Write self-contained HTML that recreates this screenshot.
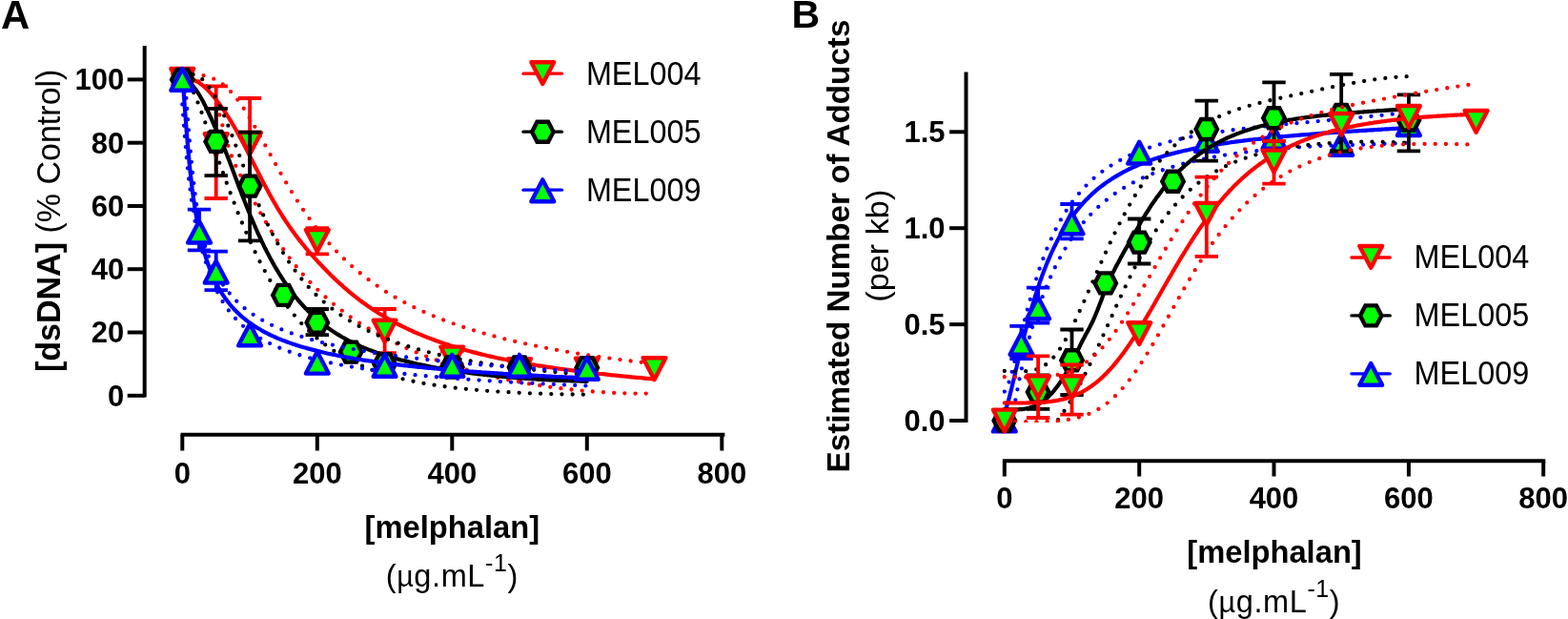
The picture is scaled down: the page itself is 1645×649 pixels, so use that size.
<!DOCTYPE html>
<html><head><meta charset="utf-8"><title>Melphalan dose response</title>
<style>html,body{margin:0;padding:0;background:#fff;overflow:hidden}svg{display:block}text{font-family:"Liberation Sans", Arial, sans-serif;fill:#000}</style>
</head><body>
<svg width="1645" height="649" viewBox="0 0 1645 649">
<rect width="1645" height="649" fill="#fff"/>
<defs><clipPath id="ca"><rect x="150" y="40" width="620" height="376.6"/></clipPath><clipPath id="cb"><rect x="1012" y="60" width="620" height="383.1"/></clipPath></defs>
<text x="1.1" y="29.7" font-size="41.8" font-weight="bold" text-anchor="start" >A</text>
<text x="830.6" y="29.3" font-size="41" font-weight="bold" text-anchor="start" >B</text>
<path d="M151.7,48 V416.6" stroke="#000" stroke-width="4" fill="none"/>
<path d="M133.7,414.8 H151.7" stroke="#000" stroke-width="4"/>
<text x="130.3" y="425.7" font-size="31" font-weight="bold" text-anchor="end" >0</text>
<path d="M133.7,348.5 H151.7" stroke="#000" stroke-width="4"/>
<text x="130.3" y="359.4" font-size="31" font-weight="bold" text-anchor="end" >20</text>
<path d="M133.7,282.2 H151.7" stroke="#000" stroke-width="4"/>
<text x="130.3" y="293.1" font-size="31" font-weight="bold" text-anchor="end" >40</text>
<path d="M133.7,216.0 H151.7" stroke="#000" stroke-width="4"/>
<text x="130.3" y="226.9" font-size="31" font-weight="bold" text-anchor="end" >60</text>
<path d="M133.7,149.7 H151.7" stroke="#000" stroke-width="4"/>
<text x="130.3" y="160.6" font-size="31" font-weight="bold" text-anchor="end" >80</text>
<path d="M133.7,83.4 H151.7" stroke="#000" stroke-width="4"/>
<text x="130.3" y="94.3" font-size="31" font-weight="bold" text-anchor="end" >100</text>
<path d="M189.5,455.7 H760.4" stroke="#000" stroke-width="4" fill="none"/>
<path d="M191.3,455.7 V472.5" stroke="#000" stroke-width="4"/>
<text x="191.3" y="507.2" font-size="31" font-weight="bold" text-anchor="middle" >0</text>
<path d="M332.8,455.7 V472.5" stroke="#000" stroke-width="4"/>
<text x="332.8" y="507.2" font-size="31" font-weight="bold" text-anchor="middle" >200</text>
<path d="M474.3,455.7 V472.5" stroke="#000" stroke-width="4"/>
<text x="474.3" y="507.2" font-size="31" font-weight="bold" text-anchor="middle" >400</text>
<path d="M615.8,455.7 V472.5" stroke="#000" stroke-width="4"/>
<text x="615.8" y="507.2" font-size="31" font-weight="bold" text-anchor="middle" >600</text>
<path d="M757.3,455.7 V472.5" stroke="#000" stroke-width="4"/>
<text x="757.3" y="507.2" font-size="31" font-weight="bold" text-anchor="middle" >800</text>
<text transform="translate(62.6,231.3) rotate(-90)" font-size="35.5" text-anchor="middle" textLength="317.5" lengthAdjust="spacingAndGlyphs"><tspan font-weight="bold">[dsDNA]</tspan> (% Control)</text>
<text x="474.3" y="564.2" font-size="34" font-weight="bold" text-anchor="middle" textLength="183.5" lengthAdjust="spacingAndGlyphs">[melphalan]</text>
<text x="474.3" y="614.7" font-size="32.5" letter-spacing="0.6" text-anchor="middle">(<tspan font-size="30.5">µ</tspan>g.mL<tspan font-size="25" dy="-15.5">-1</tspan><tspan dy="15.5">)</tspan></text>
<path d="M1013.5,75.4 V443.1" stroke="#000" stroke-width="4" fill="none"/>
<path d="M996.1,441.0 H1013.5" stroke="#000" stroke-width="4"/>
<text x="991.5" y="451.9" font-size="31" font-weight="bold" text-anchor="end" >0.0</text>
<path d="M996.1,340.1 H1013.5" stroke="#000" stroke-width="4"/>
<text x="991.5" y="351.0" font-size="31" font-weight="bold" text-anchor="end" >0.5</text>
<path d="M996.1,239.2 H1013.5" stroke="#000" stroke-width="4"/>
<text x="991.5" y="250.1" font-size="31" font-weight="bold" text-anchor="end" >1.0</text>
<path d="M996.1,138.3 H1013.5" stroke="#000" stroke-width="4"/>
<text x="991.5" y="149.2" font-size="31" font-weight="bold" text-anchor="end" >1.5</text>
<path d="M1051.9,483.3 H1621.3" stroke="#000" stroke-width="4" fill="none"/>
<path d="M1053.8,483.3 V499.5" stroke="#000" stroke-width="4"/>
<text x="1053.8" y="533.2" font-size="31" font-weight="bold" text-anchor="middle" >0</text>
<path d="M1195.2,483.3 V499.5" stroke="#000" stroke-width="4"/>
<text x="1195.2" y="533.2" font-size="31" font-weight="bold" text-anchor="middle" >200</text>
<path d="M1336.5,483.3 V499.5" stroke="#000" stroke-width="4"/>
<text x="1336.5" y="533.2" font-size="31" font-weight="bold" text-anchor="middle" >400</text>
<path d="M1477.9,483.3 V499.5" stroke="#000" stroke-width="4"/>
<text x="1477.9" y="533.2" font-size="31" font-weight="bold" text-anchor="middle" >600</text>
<path d="M1619.2,483.3 V499.5" stroke="#000" stroke-width="4"/>
<text x="1619.2" y="533.2" font-size="31" font-weight="bold" text-anchor="middle" >800</text>
<text transform="translate(891.4,258) rotate(-90)" font-size="34" font-weight="bold" text-anchor="middle" textLength="474.8" lengthAdjust="spacingAndGlyphs">Estimated Number of Adducts</text>
<text transform="translate(932.0,257.7) rotate(-90)" font-size="33" text-anchor="middle" textLength="118" lengthAdjust="spacingAndGlyphs">(per kb)</text>
<text x="1337" y="590.2" font-size="34" font-weight="bold" text-anchor="middle" textLength="183.5" lengthAdjust="spacingAndGlyphs">[melphalan]</text>
<text x="1336.7" y="641.6" font-size="32.5" letter-spacing="0.6" text-anchor="middle">(<tspan font-size="30.5">µ</tspan>g.mL<tspan font-size="25" dy="-15.5">-1</tspan><tspan dy="15.5">)</tspan></text>
<path d="M549.0,77.2 H589.4" stroke="#ff0000" stroke-width="3.3" stroke-linecap="round"/>
<path d="M569.3,88.0 L581.2,65.2 L557.4,65.2 Z" fill="#00ff00" stroke="#ff0000" stroke-width="4.4" stroke-linejoin="round"/>
<text x="614.9" y="88.6" font-size="35" font-weight="normal" text-anchor="start" textLength="120.6" lengthAdjust="spacingAndGlyphs">MEL004</text>
<path d="M549.0,138.2 H589.4" stroke="#000000" stroke-width="3.3" stroke-linecap="round"/>
<path d="M558.1,138.2 L563.5,127.7 L575.1,127.7 L580.5,138.2 L575.1,148.7 L563.5,148.7 Z" fill="#00ff00" stroke="#000000" stroke-width="4.4" stroke-linejoin="miter"/>
<text x="614.9" y="149.6" font-size="35" font-weight="normal" text-anchor="start" textLength="120.6" lengthAdjust="spacingAndGlyphs">MEL005</text>
<path d="M549.0,199.2 H589.4" stroke="#0000ff" stroke-width="3.3" stroke-linecap="round"/>
<path d="M569.3,188.4 L581.2,211.2 L557.4,211.2 Z" fill="#00ff00" stroke="#0000ff" stroke-width="4.4" stroke-linejoin="round"/>
<text x="614.9" y="210.6" font-size="35" font-weight="normal" text-anchor="start" textLength="120.6" lengthAdjust="spacingAndGlyphs">MEL009</text>
<path d="M1417.9,270.0 H1458.3" stroke="#ff0000" stroke-width="3.3" stroke-linecap="round"/>
<path d="M1438.2,280.8 L1450.1,258.0 L1426.3,258.0 Z" fill="#00ff00" stroke="#ff0000" stroke-width="4.4" stroke-linejoin="round"/>
<text x="1483.6" y="281.4" font-size="35" font-weight="normal" text-anchor="start" textLength="120.6" lengthAdjust="spacingAndGlyphs">MEL004</text>
<path d="M1417.9,330.9 H1458.3" stroke="#000000" stroke-width="3.3" stroke-linecap="round"/>
<path d="M1427.0,330.9 L1432.4,320.4 L1444.0,320.4 L1449.4,330.9 L1444.0,341.4 L1432.4,341.4 Z" fill="#00ff00" stroke="#000000" stroke-width="4.4" stroke-linejoin="miter"/>
<text x="1483.6" y="342.3" font-size="35" font-weight="normal" text-anchor="start" textLength="120.6" lengthAdjust="spacingAndGlyphs">MEL005</text>
<path d="M1417.9,391.8 H1458.3" stroke="#0000ff" stroke-width="3.3" stroke-linecap="round"/>
<path d="M1438.2,381.0 L1450.1,403.8 L1426.3,403.8 Z" fill="#00ff00" stroke="#0000ff" stroke-width="4.4" stroke-linejoin="round"/>
<text x="1483.6" y="403.2" font-size="35" font-weight="normal" text-anchor="start" textLength="120.6" lengthAdjust="spacingAndGlyphs">MEL009</text>
<path clip-path="url(#ca)" d="M191.3,78.0 L193.3,78.0 L195.3,78.0 L197.3,78.0 L199.3,78.1 L201.3,78.1 L203.3,78.2 L205.4,78.3 L207.4,78.4 L209.4,78.7 L211.3,78.9 L213.3,79.2 L215.3,79.6 L217.2,80.1 L219.2,80.7 L221.1,81.3 L222.9,82.0 L224.8,82.9 L226.6,83.8 L228.3,84.7 L230.0,85.8 L231.7,86.9 L233.3,88.1 L234.9,89.3 L236.5,90.6 L238.0,91.9 L239.4,93.3 L240.8,94.7 L242.2,96.2 L243.6,97.7 L244.9,99.2 L246.2,100.7 L247.5,102.3 L248.7,103.9 L249.9,105.5 L251.1,107.1 L252.3,108.7 L253.4,110.4 L254.6,112.0 L255.7,113.7 L256.8,115.4 L257.9,117.0 L258.9,118.7 L260.0,120.4 L261.1,122.1 L262.1,123.9 L263.2,125.6 L264.2,127.3 L265.2,129.0 L266.2,130.8 L267.2,132.5 L268.2,134.3 L269.2,136.0 L270.2,137.8 L271.2,139.5 L272.2,141.3 L273.1,143.0 L274.1,144.8 L275.1,146.5 L276.0,148.3 L277.0,150.0 L278.0,151.8 L278.9,153.6 L279.9,155.3 L280.9,157.1 L281.8,158.9 L282.8,160.6 L283.8,162.4 L284.7,164.1 L285.7,165.9 L286.7,167.7 L287.6,169.4 L288.6,171.2 L289.6,172.9 L290.6,174.7 L291.6,176.4 L292.5,178.2 L293.5,179.9 L294.5,181.7 L295.5,183.4 L296.5,185.2 L297.5,186.9 L298.5,188.6 L299.5,190.4 L300.6,192.1 L301.6,193.8 L302.6,195.6 L303.7,197.3 L304.7,199.0 L305.7,200.7 L306.8,202.4 L307.8,204.1 L308.9,205.8 L310.0,207.5 L311.1,209.2 L312.1,210.9 L313.2,212.6 L314.3,214.3 L315.4,216.0 L316.6,217.6 L317.7,219.3 L318.8,221.0 L319.9,222.6 L321.1,224.3 L322.2,225.9 L323.4,227.5 L324.6,229.2 L325.8,230.8 L326.9,232.4 L328.1,234.0 L329.3,235.6 L330.6,237.2 L331.8,238.8 L333.0,240.4 L334.3,242.0 L335.5,243.6 L336.8,245.1 L338.1,246.7 L339.3,248.2 L340.6,249.8 L341.9,251.3 L343.2,252.8 L344.6,254.3 L345.9,255.8 L347.2,257.3 L348.6,258.8 L350.0,260.3 L351.3,261.7 L352.7,263.2 L354.1,264.6 L355.5,266.1 L356.9,267.5 L358.3,268.9 L359.8,270.3 L361.2,271.7 L362.7,273.1 L364.1,274.5 L365.6,275.8 L367.1,277.2 L368.6,278.5 L370.1,279.9 L371.6,281.2 L373.1,282.5 L374.7,283.8 L376.2,285.1 L377.8,286.3 L379.3,287.6 L380.9,288.9 L382.5,290.1 L384.1,291.3 L385.7,292.5 L387.3,293.7 L388.9,294.9 L390.5,296.1 L392.2,297.3 L393.8,298.4 L395.5,299.6 L397.1,300.7 L398.8,301.8 L400.5,302.9 L402.1,304.0 L403.8,305.1 L405.5,306.2 L407.2,307.2 L409.0,308.3 L410.7,309.3 L412.4,310.4 L414.1,311.4 L415.9,312.4 L417.6,313.4 L419.4,314.3 L421.1,315.3 L422.9,316.3 L424.7,317.2 L426.5,318.1 L428.2,319.1 L430.0,320.0 L431.8,320.9 L433.6,321.8 L435.4,322.7 L437.2,323.5 L439.0,324.4 L440.9,325.2 L442.7,326.1 L444.5,326.9 L446.4,327.7 L448.2,328.5 L450.0,329.3 L451.9,330.1 L453.7,330.9 L455.6,331.7 L457.4,332.4 L459.3,333.2 L461.2,333.9 L463.0,334.7 L464.9,335.4 L466.8,336.1 L468.7,336.8 L470.6,337.5 L472.4,338.2 L474.3,338.9 L476.2,339.5 L478.1,340.2 L480.0,340.9 L481.9,341.5 L483.8,342.2 L485.7,342.8 L487.6,343.4 L489.5,344.0 L491.5,344.7 L493.4,345.3 L495.3,345.9 L497.2,346.4 L499.1,347.0 L501.1,347.6 L503.0,348.2 L504.9,348.7 L506.8,349.3 L508.8,349.8 L510.7,350.4 L512.6,350.9 L514.6,351.4 L516.5,352.0 L518.5,352.5 L520.4,353.0 L522.3,353.5 L524.3,354.0 L526.2,354.5 L528.2,355.0 L530.1,355.5 L532.1,356.0 L534.0,356.4 L536.0,356.9 L537.9,357.4 L539.9,357.8 L541.9,358.3 L543.8,358.7 L545.8,359.2 L547.7,359.6 L549.7,360.0 L551.7,360.5 L553.6,360.9 L555.6,361.3 L557.5,361.7 L559.5,362.1 L561.5,362.5 L563.4,362.9 L565.4,363.3 L567.4,363.7 L569.4,364.1 L571.3,364.5 L573.3,364.9 L575.3,365.2 L577.2,365.6 L579.2,366.0 L581.2,366.3 L583.2,366.7 L585.1,367.1 L587.1,367.4 L589.1,367.8 L591.1,368.1 L593.1,368.5 L595.0,368.8 L597.0,369.1 L599.0,369.5 L601.0,369.8 L603.0,370.1 L604.9,370.5 L606.9,370.8 L608.9,371.1 L610.9,371.4 L612.9,371.7 L614.9,372.0 L616.8,372.3 L618.8,372.6 L620.8,372.9 L622.8,373.2 L624.8,373.5 L626.8,373.8 L628.8,374.1 L630.8,374.4 L632.7,374.7 L634.7,374.9 L636.7,375.2 L638.7,375.5 L640.7,375.8 L642.7,376.0 L644.7,376.3 L646.7,376.6 L648.7,376.8 L650.7,377.1 L652.6,377.3 L654.6,377.6 L656.6,377.8 L658.6,378.1 L660.6,378.4 L662.6,378.6 L664.6,378.8 L666.6,379.1 L668.6,379.3 L670.6,379.6 L672.6,379.8 L674.6,380.0 L676.6,380.3 L678.6,380.5 L680.6,380.7 L682.6,381.0 L684.6,381.2 L686.5,381.4" fill="none" stroke="#ff0000" stroke-width="4.3" stroke-dasharray="0 11.2" stroke-linecap="round"/>
<path clip-path="url(#ca)" d="M191.3,72.7 L193.3,72.8 L195.3,73.2 L197.1,74.0 L198.9,74.9 L200.5,76.1 L202.1,77.4 L203.5,78.8 L204.8,80.3 L206.1,81.9 L207.3,83.5 L208.4,85.1 L209.5,86.8 L210.6,88.5 L211.6,90.2 L213.1,90.1 L215.0,89.6 L216.9,90.2 L218.5,91.4 L219.8,93.0 L220.9,94.6 L221.9,96.4 L222.8,98.2 L223.6,100.0 L224.4,101.9 L225.1,103.7 L225.8,105.6 L226.5,107.5 L227.1,109.4 L227.7,111.3 L228.3,113.2 L228.9,115.2 L229.5,117.1 L230.0,119.0 L230.6,121.0 L231.1,122.9 L231.6,124.8 L232.2,126.8 L232.7,128.7 L233.2,130.7 L233.7,132.6 L234.3,134.5 L234.8,136.5 L235.3,138.4 L235.8,140.4 L236.4,142.3 L236.9,144.2 L237.4,146.2 L238.0,148.1 L238.5,150.0 L239.1,152.0 L239.7,153.9 L240.3,155.8 L240.9,157.7 L241.5,159.6 L242.2,161.5 L242.9,163.4 L243.6,165.3 L244.4,167.1 L245.1,169.0 L245.9,170.8 L246.8,172.7 L247.6,174.5 L248.5,176.3 L249.4,178.1 L250.3,179.9 L251.2,181.7 L252.1,183.5 L253.0,185.3 L253.9,187.0 L254.8,188.8 L255.7,190.6 L256.7,192.4 L257.6,194.2 L258.5,196.0 L259.4,197.8 L260.4,199.5 L261.3,201.3 L262.2,203.1 L263.2,204.9 L264.1,206.6 L265.1,208.4 L266.0,210.2 L267.0,212.0 L267.9,213.7 L268.9,215.5 L269.9,217.2 L270.9,219.0 L271.8,220.7 L272.8,222.5 L273.8,224.2 L274.8,226.0 L275.8,227.7 L276.8,229.5 L277.8,231.2 L278.9,232.9 L279.9,234.6 L280.9,236.4 L282.0,238.1 L283.0,239.8 L284.1,241.5 L285.2,243.2 L286.2,244.9 L287.3,246.6 L288.4,248.3 L289.5,250.0 L290.6,251.7 L291.7,253.3 L292.8,255.0 L293.9,256.7 L295.1,258.3 L296.2,260.0 L297.4,261.6 L298.5,263.3 L299.7,264.9 L300.9,266.5 L302.1,268.1 L303.3,269.7 L304.5,271.3 L305.7,272.9 L306.9,274.5 L308.2,276.1 L309.4,277.7 L310.7,279.2 L312.0,280.8 L313.3,282.3 L314.6,283.8 L315.9,285.4 L317.2,286.9 L318.5,288.4 L319.9,289.9 L321.2,291.4 L322.6,292.9 L324.0,294.3 L325.3,295.8 L326.7,297.2 L328.1,298.7 L329.5,300.1 L331.0,301.5 L332.4,302.9 L333.8,304.3 L335.3,305.7 L336.8,307.1 L338.2,308.5 L339.7,309.8 L341.2,311.2 L342.7,312.5 L344.2,313.8 L345.7,315.1 L347.3,316.4 L348.8,317.7 L350.3,319.0 L351.9,320.3 L353.5,321.5 L355.0,322.8 L356.6,324.0 L358.2,325.2 L359.8,326.5 L361.4,327.7 L363.0,328.8 L364.7,330.0 L366.3,331.2 L367.9,332.4 L369.6,333.5 L371.2,334.6 L372.9,335.8 L374.6,336.9 L376.3,338.0 L377.9,339.1 L379.6,340.2 L381.3,341.2 L383.0,342.3 L384.8,343.4 L386.5,344.4 L388.2,345.4 L389.9,346.4 L391.7,347.4 L393.4,348.4 L395.2,349.4 L396.9,350.4 L398.7,351.4 L400.4,352.3 L402.2,353.3 L404.0,354.2 L405.8,355.2 L407.6,356.1 L409.3,357.0 L411.1,357.9 L412.9,358.8 L414.8,359.6 L416.6,360.5 L418.4,361.4 L420.2,362.2 L422.0,363.1 L423.9,363.9 L425.7,364.7 L427.5,365.5 L429.4,366.3 L431.2,367.1 L433.1,367.9 L434.9,368.7 L436.8,369.5 L438.6,370.2 L440.5,371.0 L442.4,371.7 L444.2,372.5 L446.1,373.2 L448.0,373.9 L449.8,374.6 L451.7,375.3 L453.6,376.0 L455.5,376.7 L457.4,377.4 L459.3,378.0 L461.2,378.7 L463.1,379.3 L465.0,380.0 L466.9,380.6 L468.8,381.3 L470.7,381.9 L472.6,382.5 L474.5,383.1 L476.5,383.7 L478.4,384.3 L480.3,384.9 L482.2,385.5 L484.1,386.0 L486.1,386.6 L488.0,387.2 L489.9,387.7 L491.9,388.3 L493.8,388.8 L495.7,389.3 L497.7,389.9 L499.6,390.4 L501.6,390.9 L503.5,391.4 L505.5,391.9 L507.4,392.4 L509.4,392.9 L511.3,393.3 L513.3,393.8 L515.2,394.3 L517.2,394.7 L519.1,395.2 L521.1,395.6 L523.0,396.1 L525.0,396.5 L527.0,396.9 L528.9,397.3 L530.9,397.8 L532.9,398.2 L534.8,398.6 L536.8,399.0 L538.8,399.4 L540.7,399.7 L542.7,400.1 L544.7,400.5 L546.7,400.9 L548.6,401.2 L550.6,401.6 L552.6,401.9 L554.6,402.3 L556.6,402.6 L558.5,402.9 L560.5,403.3 L562.5,403.6 L564.5,403.9 L566.5,404.2 L568.5,404.5 L570.4,404.8 L572.4,405.1 L574.4,405.4 L576.4,405.7 L578.4,405.9 L580.4,406.2 L582.4,406.5 L584.4,406.7 L586.4,407.0 L588.4,407.2 L590.4,407.5 L592.4,407.7 L594.3,407.9 L596.3,408.1 L598.3,408.4 L600.3,408.6 L602.3,408.8 L604.3,409.0 L606.3,409.2 L608.3,409.4 L610.3,409.5 L612.3,409.7 L614.3,409.9 L616.3,410.1 L618.3,410.2 L620.3,410.4 L622.3,410.5 L624.3,410.7 L626.4,410.8 L628.4,411.0 L630.4,411.1 L632.4,411.2 L634.4,411.4 L636.4,411.5 L638.4,411.6 L640.4,411.7 L642.4,411.8 L644.4,411.9 L646.4,412.0 L648.4,412.0 L650.4,412.1 L652.4,412.2 L654.4,412.3 L656.4,412.3 L658.5,412.4 L660.5,412.4 L662.5,412.5 L664.5,412.5 L666.5,412.6 L668.5,412.6 L670.5,412.6 L672.5,412.6 L674.5,412.6 L676.5,412.6 L678.5,412.6 L680.5,412.6 L682.6,412.7 L684.6,412.9 L686.5,413.1" fill="none" stroke="#ff0000" stroke-width="4.3" stroke-dasharray="0 11.2" stroke-linecap="round"/>
<path clip-path="url(#ca)" d="M191.3,81.5 L193.3,81.6 L195.3,81.7 L197.3,82.0 L199.3,82.5 L201.2,83.0 L203.1,83.7 L204.9,84.6 L206.7,85.5 L208.4,86.5 L210.1,87.7 L211.7,88.8 L213.3,90.1 L214.8,91.4 L216.3,92.8 L217.7,94.2 L219.1,95.6 L220.5,97.1 L221.8,98.6 L223.1,100.1 L224.4,101.6 L225.7,103.2 L226.9,104.8 L228.2,106.4 L229.4,108.0 L230.6,109.6 L231.7,111.2 L232.9,112.9 L234.0,114.5 L235.2,116.2 L236.3,117.8 L237.4,119.5 L238.5,121.2 L239.6,122.9 L240.7,124.6 L241.7,126.3 L242.8,128.0 L243.8,129.7 L244.8,131.5 L245.9,133.2 L246.9,134.9 L247.9,136.7 L248.9,138.4 L249.8,140.2 L250.8,141.9 L251.8,143.7 L252.7,145.5 L253.7,147.2 L254.6,149.0 L255.6,150.8 L256.5,152.6 L257.4,154.4 L258.3,156.1 L259.3,157.9 L260.2,159.7 L261.1,161.5 L262.0,163.3 L262.9,165.1 L263.8,166.9 L264.7,168.7 L265.6,170.5 L266.5,172.3 L267.4,174.1 L268.4,175.9 L269.3,177.6 L270.2,179.4 L271.1,181.2 L272.0,183.0 L272.9,184.8 L273.8,186.6 L274.8,188.4 L275.7,190.2 L276.6,191.9 L277.5,193.7 L278.5,195.5 L279.4,197.3 L280.4,199.1 L281.3,200.8 L282.3,202.6 L283.2,204.4 L284.2,206.1 L285.2,207.9 L286.2,209.6 L287.2,211.4 L288.2,213.1 L289.2,214.8 L290.2,216.6 L291.2,218.3 L292.3,220.0 L293.3,221.7 L294.4,223.4 L295.5,225.1 L296.5,226.8 L297.6,228.5 L298.7,230.2 L299.8,231.9 L300.9,233.6 L302.1,235.2 L303.2,236.9 L304.4,238.5 L305.5,240.2 L306.7,241.8 L307.9,243.4 L309.1,245.1 L310.3,246.7 L311.5,248.3 L312.7,249.9 L313.9,251.5 L315.2,253.0 L316.4,254.6 L317.7,256.2 L319.0,257.7 L320.2,259.3 L321.5,260.8 L322.8,262.4 L324.1,263.9 L325.5,265.4 L326.8,266.9 L328.1,268.4 L329.5,269.9 L330.8,271.4 L332.2,272.9 L333.5,274.4 L334.9,275.8 L336.3,277.3 L337.7,278.7 L339.0,280.2 L340.4,281.6 L341.9,283.1 L343.3,284.5 L344.7,285.9 L346.1,287.4 L347.5,288.8 L349.0,290.2 L350.4,291.6 L351.9,292.9 L353.3,294.3 L354.8,295.7 L356.3,297.1 L357.8,298.4 L359.3,299.7 L360.8,301.1 L362.3,302.4 L363.8,303.7 L365.3,305.0 L366.9,306.3 L368.4,307.6 L370.0,308.9 L371.5,310.1 L373.1,311.4 L374.7,312.6 L376.3,313.9 L377.9,315.1 L379.5,316.3 L381.1,317.5 L382.7,318.6 L384.4,319.8 L386.0,321.0 L387.7,322.1 L389.4,323.2 L391.0,324.3 L392.7,325.5 L394.4,326.5 L396.1,327.6 L397.8,328.7 L399.5,329.7 L401.2,330.8 L402.9,331.8 L404.7,332.8 L406.4,333.8 L408.2,334.8 L409.9,335.8 L411.7,336.8 L413.5,337.7 L415.2,338.7 L417.0,339.6 L418.8,340.5 L420.6,341.4 L422.4,342.3 L424.2,343.2 L426.0,344.1 L427.8,344.9 L429.6,345.8 L431.5,346.6 L433.3,347.5 L435.1,348.3 L437.0,349.1 L438.8,349.9 L440.7,350.6 L442.5,351.4 L444.4,352.2 L446.3,352.9 L448.1,353.7 L450.0,354.4 L451.9,355.1 L453.8,355.8 L455.7,356.5 L457.5,357.2 L459.4,357.9 L461.3,358.5 L463.2,359.2 L465.1,359.9 L467.0,360.5 L468.9,361.1 L470.9,361.8 L472.8,362.4 L474.7,363.0 L476.6,363.6 L478.5,364.2 L480.4,364.7 L482.4,365.3 L484.3,365.9 L486.2,366.4 L488.2,367.0 L490.1,367.5 L492.0,368.0 L494.0,368.6 L495.9,369.1 L497.9,369.6 L499.8,370.1 L501.8,370.6 L503.7,371.1 L505.7,371.6 L507.6,372.0 L509.6,372.5 L511.5,373.0 L513.5,373.4 L515.4,373.9 L517.4,374.3 L519.4,374.7 L521.3,375.2 L523.3,375.6 L525.3,376.0 L527.2,376.4 L529.2,376.8 L531.2,377.2 L533.1,377.6 L535.1,378.0 L537.1,378.4 L539.1,378.8 L541.0,379.2 L543.0,379.5 L545.0,379.9 L547.0,380.3 L548.9,380.6 L550.9,381.0 L552.9,381.3 L554.9,381.6 L556.9,382.0 L558.8,382.3 L560.8,382.6 L562.8,383.0 L564.8,383.3 L566.8,383.6 L568.8,383.9 L570.8,384.2 L572.7,384.5 L574.7,384.8 L576.7,385.1 L578.7,385.4 L580.7,385.7 L582.7,386.0 L584.7,386.3 L586.7,386.6 L588.7,386.8 L590.6,387.1 L592.6,387.4 L594.6,387.6 L596.6,387.9 L598.6,388.2 L600.6,388.4 L602.6,388.7 L604.6,388.9 L606.6,389.2 L608.6,389.4 L610.6,389.7 L612.6,389.9 L614.6,390.1 L616.6,390.4 L618.6,390.6 L620.6,390.8 L622.6,391.1 L624.6,391.3 L626.6,391.5 L628.5,391.8 L630.5,392.0 L632.5,392.2 L634.5,392.4 L636.5,392.6 L638.5,392.8 L640.5,393.1 L642.5,393.3 L644.5,393.5 L646.5,393.7 L648.5,393.9 L650.5,394.1 L652.5,394.3 L654.5,394.5 L656.5,394.7 L658.5,394.9 L660.5,395.1 L662.5,395.3 L664.5,395.5 L666.5,395.7 L668.5,395.8 L670.5,396.0 L672.5,396.2 L674.5,396.4 L676.5,396.6 L678.5,396.8 L680.5,397.0 L682.5,397.1 L684.5,397.3 L686.5,397.5" fill="none" stroke="#ff0000" stroke-width="4.2" stroke-linejoin="round" stroke-linecap="round"/>
<path d="M191.3,76.8 V90.0 M179.1,76.8 H203.5 M179.1,90.0 H203.5" stroke="#ff0000" stroke-width="3.8" fill="none"/>
<path d="M226.7,90.4 V208.0 M214.5,90.4 H238.9 M214.5,208.0 H238.9" stroke="#ff0000" stroke-width="3.8" fill="none"/>
<path d="M262.1,103.0 V197.7 M249.9,103.0 H274.2 M249.9,197.7 H274.2" stroke="#ff0000" stroke-width="3.8" fill="none"/>
<path d="M332.8,239.2 V266.3 M320.6,239.2 H345.0 M320.6,266.3 H345.0" stroke="#ff0000" stroke-width="3.8" fill="none"/>
<path d="M403.6,324.0 V370.1 M391.4,324.0 H415.8 M391.4,370.1 H415.8" stroke="#ff0000" stroke-width="3.8" fill="none"/>
<path d="M474.3,368.4 V381.7 M462.1,368.4 H486.5 M462.1,381.7 H486.5" stroke="#ff0000" stroke-width="3.8" fill="none"/>
<path d="M191.3,94.8 L203.2,72.0 L179.4,72.0 Z" fill="#00ff00" stroke="#ff0000" stroke-width="4.4" stroke-linejoin="round"/>
<path d="M226.7,163.1 L238.6,140.3 L214.8,140.3 Z" fill="#00ff00" stroke="#ff0000" stroke-width="4.4" stroke-linejoin="round"/>
<path d="M262.1,161.7 L273.9,138.9 L250.2,138.9 Z" fill="#00ff00" stroke="#ff0000" stroke-width="4.4" stroke-linejoin="round"/>
<path d="M332.8,263.8 L344.7,241.0 L320.9,241.0 Z" fill="#00ff00" stroke="#ff0000" stroke-width="4.4" stroke-linejoin="round"/>
<path d="M403.6,358.6 L415.4,335.8 L391.7,335.8 Z" fill="#00ff00" stroke="#ff0000" stroke-width="4.4" stroke-linejoin="round"/>
<path d="M474.3,386.4 L486.2,363.6 L462.4,363.6 Z" fill="#00ff00" stroke="#ff0000" stroke-width="4.4" stroke-linejoin="round"/>
<path d="M545.0,399.0 L556.9,376.2 L533.1,376.2 Z" fill="#00ff00" stroke="#ff0000" stroke-width="4.4" stroke-linejoin="round"/>
<path d="M615.8,398.4 L627.7,375.6 L603.9,375.6 Z" fill="#00ff00" stroke="#ff0000" stroke-width="4.4" stroke-linejoin="round"/>
<path d="M686.5,398.0 L698.4,375.2 L674.6,375.2 Z" fill="#00ff00" stroke="#ff0000" stroke-width="4.4" stroke-linejoin="round"/>
<path clip-path="url(#ca)" d="M191.3,77.0 L193.3,77.0 L195.3,77.1 L197.3,77.2 L199.3,77.4 L201.3,77.8 L203.2,78.3 L205.1,78.9 L207.0,79.7 L208.7,80.7 L210.4,81.8 L212.0,83.0 L213.5,84.4 L214.9,85.8 L216.3,87.2 L217.6,88.8 L218.8,90.4 L220.0,92.0 L221.1,93.6 L222.2,95.3 L223.3,97.0 L224.3,98.8 L225.3,100.5 L226.3,102.3 L227.2,104.0 L228.1,105.8 L229.0,107.6 L229.9,109.4 L230.7,111.2 L231.6,113.1 L232.4,114.9 L233.2,116.7 L234.0,118.6 L234.8,120.4 L235.6,122.3 L236.3,124.1 L237.1,126.0 L237.8,127.8 L238.6,129.7 L239.3,131.6 L240.1,133.4 L240.8,135.3 L241.5,137.2 L242.2,139.1 L243.0,140.9 L243.7,142.8 L244.4,144.7 L245.1,146.6 L245.8,148.4 L246.5,150.3 L247.2,152.2 L247.9,154.1 L248.6,156.0 L249.3,157.9 L250.0,159.7 L250.7,161.6 L251.4,163.5 L252.1,165.4 L252.8,167.3 L253.5,169.1 L254.2,171.0 L254.9,172.9 L255.6,174.8 L256.3,176.7 L257.0,178.5 L257.7,180.4 L258.4,182.3 L259.2,184.2 L259.9,186.0 L260.6,187.9 L261.3,189.8 L262.1,191.7 L262.8,193.5 L263.5,195.4 L264.3,197.3 L265.0,199.1 L265.8,201.0 L266.5,202.9 L267.3,204.7 L268.0,206.6 L268.8,208.4 L269.6,210.3 L270.4,212.1 L271.2,214.0 L271.9,215.8 L272.7,217.7 L273.6,219.5 L274.4,221.3 L275.2,223.2 L276.0,225.0 L276.8,226.8 L277.7,228.6 L278.5,230.5 L279.4,232.3 L280.3,234.1 L281.1,235.9 L282.0,237.7 L282.9,239.5 L283.8,241.3 L284.7,243.1 L285.6,244.9 L286.6,246.6 L287.5,248.4 L288.5,250.2 L289.4,251.9 L290.4,253.7 L291.4,255.5 L292.4,257.2 L293.4,258.9 L294.4,260.7 L295.4,262.4 L296.4,264.1 L297.5,265.8 L298.5,267.5 L299.6,269.2 L300.7,270.9 L301.8,272.6 L302.9,274.3 L304.0,275.9 L305.2,277.6 L306.3,279.2 L307.5,280.9 L308.7,282.5 L309.9,284.1 L311.1,285.7 L312.3,287.3 L313.5,288.9 L314.8,290.5 L316.0,292.0 L317.3,293.6 L318.6,295.1 L319.9,296.6 L321.2,298.1 L322.6,299.6 L323.9,301.1 L325.3,302.6 L326.7,304.1 L328.1,305.5 L329.5,306.9 L330.9,308.4 L332.3,309.8 L333.8,311.1 L335.2,312.5 L336.7,313.9 L338.2,315.2 L339.7,316.5 L341.2,317.8 L342.8,319.1 L344.3,320.4 L345.9,321.7 L347.5,322.9 L349.0,324.2 L350.6,325.4 L352.3,326.6 L353.9,327.7 L355.5,328.9 L357.2,330.1 L358.8,331.2 L360.5,332.3 L362.2,333.4 L363.9,334.5 L365.6,335.5 L367.3,336.6 L369.0,337.6 L370.7,338.6 L372.5,339.6 L374.2,340.6 L376.0,341.6 L377.7,342.5 L379.5,343.5 L381.3,344.4 L383.1,345.3 L384.9,346.2 L386.7,347.1 L388.5,347.9 L390.3,348.8 L392.2,349.6 L394.0,350.5 L395.8,351.3 L397.7,352.0 L399.5,352.8 L401.4,353.6 L403.2,354.3 L405.1,355.1 L407.0,355.8 L408.8,356.5 L410.7,357.2 L412.6,357.9 L414.5,358.6 L416.4,359.3 L418.3,359.9 L420.2,360.6 L422.1,361.2 L424.0,361.8 L425.9,362.4 L427.8,363.1 L429.7,363.6 L431.7,364.2 L433.6,364.8 L435.5,365.4 L437.5,365.9 L439.4,366.5 L441.3,367.0 L443.3,367.5 L445.2,368.0 L447.1,368.6 L449.1,369.1 L451.0,369.6 L453.0,370.0 L454.9,370.5 L456.9,371.0 L458.8,371.5 L460.8,371.9 L462.7,372.4 L464.7,372.8 L466.7,373.2 L468.6,373.7 L470.6,374.1 L472.5,374.5 L474.5,374.9 L476.5,375.3 L478.5,375.7 L480.4,376.1 L482.4,376.5 L484.4,376.8 L486.3,377.2 L488.3,377.6 L490.3,377.9 L492.3,378.3 L494.2,378.6 L496.2,379.0 L498.2,379.3 L500.2,379.6 L502.2,380.0 L504.1,380.3 L506.1,380.6 L508.1,380.9 L510.1,381.2 L512.1,381.5 L514.0,381.9 L516.0,382.2 L518.0,382.4 L520.0,382.7 L522.0,383.0 L524.0,383.3 L526.0,383.6 L528.0,383.9 L529.9,384.1 L531.9,384.4 L533.9,384.6 L535.9,384.9 L537.9,385.2 L539.9,385.4 L541.9,385.7 L543.9,385.9 L545.9,386.2 L547.9,386.4 L549.9,386.6 L551.9,386.9 L553.9,387.1 L555.8,387.3 L557.8,387.5 L559.8,387.8 L561.8,388.0 L563.8,388.2 L565.8,388.4 L567.8,388.6 L569.8,388.8 L571.8,389.0 L573.8,389.2 L575.8,389.4 L577.8,389.6 L579.8,389.8 L581.8,390.0 L583.8,390.2 L585.8,390.4 L587.8,390.6 L589.8,390.8 L591.8,391.0 L593.8,391.1 L595.8,391.3 L597.8,391.5 L599.8,391.7 L601.8,391.8 L603.8,392.0 L605.8,392.2 L607.8,392.3 L609.8,392.5 L611.8,392.7 L613.8,392.8 L615.8,393.0" fill="none" stroke="#000000" stroke-width="4.3" stroke-dasharray="0 11.2" stroke-linecap="round"/>
<path clip-path="url(#ca)" d="M191.3,78.5 L193.0,79.5 L194.3,81.0 L195.5,82.6 L196.6,84.3 L197.7,86.0 L198.7,87.7 L199.6,89.5 L200.5,91.3 L201.4,93.1 L202.2,95.0 L203.0,96.8 L203.8,98.6 L204.6,100.5 L205.4,102.3 L206.2,104.2 L206.9,106.0 L207.7,107.9 L208.4,109.8 L209.1,111.6 L209.9,113.5 L210.6,115.4 L211.3,117.3 L212.0,119.2 L212.7,121.0 L213.4,122.9 L214.1,124.8 L214.8,126.7 L215.4,128.6 L216.1,130.5 L216.8,132.4 L217.5,134.3 L218.1,136.2 L218.8,138.0 L219.5,139.9 L220.2,141.8 L220.8,143.7 L221.5,145.6 L222.2,147.5 L222.8,149.4 L223.5,151.3 L224.1,153.2 L224.8,155.1 L225.5,157.0 L226.1,158.9 L226.8,160.8 L227.5,162.7 L228.1,164.6 L228.8,166.5 L229.4,168.4 L230.1,170.3 L230.8,172.2 L231.4,174.1 L232.1,176.0 L232.8,177.9 L233.5,179.7 L234.1,181.6 L234.8,183.5 L235.5,185.4 L236.2,187.3 L236.9,189.2 L237.5,191.1 L238.2,193.0 L238.9,194.9 L239.6,196.7 L240.3,198.6 L241.0,200.5 L241.7,202.4 L242.4,204.3 L243.1,206.2 L243.8,208.0 L244.5,209.9 L245.3,211.8 L246.0,213.7 L246.7,215.5 L247.4,217.4 L248.2,219.3 L248.9,221.1 L249.6,223.0 L250.4,224.9 L251.1,226.7 L251.9,228.6 L252.7,230.5 L253.4,232.3 L254.2,234.2 L255.0,236.0 L255.7,237.9 L256.5,239.7 L257.3,241.6 L258.1,243.4 L258.9,245.3 L259.7,247.1 L260.5,248.9 L261.4,250.8 L262.2,252.6 L263.0,254.4 L263.8,256.3 L264.7,258.1 L265.5,259.9 L266.4,261.7 L267.3,263.5 L268.1,265.3 L269.0,267.2 L269.9,269.0 L270.8,270.8 L271.7,272.5 L272.6,274.3 L273.5,276.1 L274.5,277.9 L275.4,279.7 L276.3,281.5 L277.3,283.2 L278.3,285.0 L279.2,286.7 L280.2,288.5 L281.2,290.2 L282.2,292.0 L283.2,293.7 L284.2,295.5 L285.3,297.2 L286.3,298.9 L287.4,300.6 L288.4,302.3 L289.5,304.0 L290.6,305.7 L291.7,307.4 L292.8,309.1 L293.9,310.7 L295.0,312.4 L296.2,314.0 L297.3,315.7 L298.5,317.3 L299.7,318.9 L300.9,320.5 L302.1,322.1 L303.3,323.7 L304.6,325.3 L305.8,326.9 L307.1,328.5 L308.4,330.0 L309.6,331.6 L310.9,333.1 L312.3,334.6 L313.6,336.1 L314.9,337.6 L316.3,339.1 L317.7,340.5 L319.1,342.0 L320.5,343.4 L321.9,344.8 L323.3,346.2 L324.8,347.6 L326.3,349.0 L327.7,350.4 L329.2,351.7 L330.7,353.0 L332.3,354.3 L333.8,355.6 L335.3,356.9 L336.9,358.2 L338.5,359.4 L340.1,360.6 L341.7,361.8 L343.3,363.0 L344.9,364.2 L346.6,365.3 L348.2,366.5 L349.9,367.6 L351.6,368.7 L353.3,369.8 L355.0,370.8 L356.7,371.9 L358.5,372.9 L360.2,373.9 L362.0,374.9 L363.7,375.8 L365.5,376.8 L367.3,377.7 L369.1,378.6 L370.9,379.5 L372.7,380.4 L374.5,381.2 L376.3,382.0 L378.2,382.9 L380.0,383.6 L381.9,384.4 L383.7,385.2 L385.6,385.9 L387.5,386.7 L389.3,387.4 L391.2,388.1 L393.1,388.8 L395.0,389.4 L396.9,390.1 L398.8,390.7 L400.7,391.3 L402.6,391.9 L404.6,392.5 L406.5,393.1 L408.4,393.7 L410.3,394.2 L412.3,394.7 L414.2,395.3 L416.2,395.8 L418.1,396.3 L420.1,396.7 L422.0,397.2 L424.0,397.7 L425.9,398.1 L427.9,398.6 L429.8,399.0 L431.8,399.4 L433.8,399.8 L435.7,400.2 L437.7,400.6 L439.7,401.0 L441.7,401.4 L443.6,401.7 L445.6,402.1 L447.6,402.4 L449.6,402.7 L451.6,403.1 L453.5,403.4 L455.5,403.7 L457.5,404.0 L459.5,404.3 L461.5,404.6 L463.5,404.9 L465.5,405.1 L467.5,405.4 L469.5,405.7 L471.5,405.9 L473.4,406.2 L475.4,406.4 L477.4,406.6 L479.4,406.9 L481.4,407.1 L483.4,407.3 L485.4,407.5 L487.4,407.7 L489.4,407.9 L491.4,408.1 L493.4,408.3 L495.4,408.5 L497.4,408.7 L499.4,408.8 L501.4,409.0 L503.4,409.2 L505.4,409.4 L507.4,409.5 L509.4,409.7 L511.4,409.8 L513.4,410.0 L515.4,410.1 L517.4,410.2 L519.4,410.4 L521.5,410.5 L523.5,410.6 L525.5,410.8 L527.5,410.9 L529.5,411.0 L531.5,411.1 L533.5,411.2 L535.5,411.3 L537.5,411.5 L539.5,411.5 L541.5,411.7 L543.5,411.8 L545.5,411.8 L547.5,411.9 L549.5,412.0 L551.5,412.1 L553.5,412.2 L555.6,412.3 L557.6,412.4 L559.6,412.4 L561.6,412.5 L563.6,412.6 L565.6,412.6 L567.6,412.7 L569.6,412.8 L571.6,412.8 L573.6,412.9 L575.6,413.0 L577.6,413.0 L579.6,413.1 L581.7,413.1 L583.7,413.2 L585.7,413.2 L587.7,413.3 L589.7,413.3 L591.7,413.4 L593.7,413.4 L595.7,413.4 L597.7,413.5 L599.7,413.5 L601.7,413.5 L603.7,413.6 L605.8,413.6 L607.8,413.6 L609.8,413.6 L611.8,413.7 L613.8,413.7 L615.8,413.7" fill="none" stroke="#000000" stroke-width="4.3" stroke-dasharray="0 11.2" stroke-linecap="round"/>
<path clip-path="url(#ca)" d="M191.3,83.1 L193.3,83.5 L195.1,84.3 L196.9,85.2 L198.5,86.4 L200.0,87.7 L201.5,89.1 L202.8,90.6 L204.1,92.2 L205.3,93.8 L206.5,95.4 L207.6,97.1 L208.7,98.8 L209.7,100.5 L210.7,102.2 L211.7,104.0 L212.7,105.7 L213.6,107.5 L214.5,109.3 L215.4,111.1 L216.3,112.9 L217.2,114.7 L218.0,116.5 L218.9,118.4 L219.7,120.2 L220.5,122.0 L221.4,123.8 L222.2,125.7 L223.0,127.5 L223.8,129.3 L224.6,131.2 L225.5,133.0 L226.3,134.8 L227.1,136.7 L227.9,138.5 L228.7,140.3 L229.5,142.2 L230.4,144.0 L231.2,145.9 L232.0,147.7 L232.8,149.5 L233.6,151.4 L234.4,153.2 L235.1,155.1 L235.9,156.9 L236.7,158.8 L237.4,160.7 L238.2,162.5 L238.9,164.4 L239.6,166.3 L240.4,168.1 L241.1,170.0 L241.8,171.9 L242.5,173.8 L243.2,175.6 L243.9,177.5 L244.6,179.4 L245.3,181.3 L246.0,183.2 L246.7,185.1 L247.4,186.9 L248.1,188.8 L248.8,190.7 L249.5,192.6 L250.2,194.5 L250.9,196.3 L251.6,198.2 L252.4,200.1 L253.1,202.0 L253.8,203.9 L254.5,205.7 L255.3,207.6 L256.0,209.5 L256.7,211.3 L257.5,213.2 L258.2,215.1 L258.9,216.9 L259.7,218.8 L260.4,220.7 L261.2,222.5 L262.0,224.4 L262.7,226.2 L263.5,228.1 L264.3,229.9 L265.1,231.8 L265.9,233.6 L266.7,235.5 L267.5,237.3 L268.3,239.2 L269.1,241.0 L269.9,242.8 L270.7,244.7 L271.6,246.5 L272.4,248.3 L273.3,250.1 L274.1,251.9 L275.0,253.8 L275.9,255.6 L276.7,257.4 L277.6,259.2 L278.5,261.0 L279.4,262.8 L280.3,264.6 L281.3,266.3 L282.2,268.1 L283.1,269.9 L284.1,271.7 L285.1,273.4 L286.0,275.2 L287.0,276.9 L288.0,278.7 L289.0,280.4 L290.0,282.1 L291.1,283.9 L292.1,285.6 L293.2,287.3 L294.2,289.0 L295.3,290.7 L296.4,292.4 L297.5,294.1 L298.6,295.7 L299.7,297.4 L300.9,299.1 L302.0,300.7 L303.2,302.3 L304.4,304.0 L305.6,305.6 L306.8,307.2 L308.0,308.8 L309.3,310.3 L310.5,311.9 L311.8,313.4 L313.1,315.0 L314.4,316.5 L315.7,318.0 L317.1,319.5 L318.4,321.0 L319.8,322.5 L321.2,323.9 L322.6,325.4 L324.0,326.8 L325.4,328.2 L326.9,329.6 L328.3,331.0 L329.8,332.3 L331.3,333.6 L332.8,335.0 L334.4,336.3 L335.9,337.5 L337.5,338.8 L339.0,340.1 L340.6,341.3 L342.2,342.5 L343.9,343.7 L345.5,344.8 L347.1,346.0 L348.8,347.1 L350.5,348.2 L352.2,349.3 L353.9,350.4 L355.6,351.4 L357.3,352.4 L359.1,353.5 L360.8,354.4 L362.6,355.4 L364.3,356.4 L366.1,357.3 L367.9,358.2 L369.7,359.1 L371.5,360.0 L373.3,360.8 L375.2,361.7 L377.0,362.5 L378.8,363.3 L380.7,364.1 L382.5,364.9 L384.4,365.6 L386.2,366.4 L388.1,367.1 L390.0,367.8 L391.9,368.5 L393.8,369.2 L395.7,369.9 L397.6,370.5 L399.5,371.2 L401.4,371.8 L403.3,372.4 L405.2,373.0 L407.1,373.6 L409.0,374.2 L411.0,374.8 L412.9,375.3 L414.8,375.9 L416.8,376.4 L418.7,376.9 L420.6,377.5 L422.6,377.9 L424.5,378.4 L426.5,378.9 L428.4,379.4 L430.4,379.9 L432.3,380.3 L434.3,380.8 L436.3,381.2 L438.2,381.7 L440.2,382.1 L442.1,382.5 L444.1,382.9 L446.1,383.3 L448.1,383.7 L450.0,384.1 L452.0,384.5 L454.0,384.8 L455.9,385.2 L457.9,385.6 L459.9,385.9 L461.9,386.3 L463.9,386.6 L465.8,386.9 L467.8,387.3 L469.8,387.6 L471.8,387.9 L473.8,388.2 L475.8,388.5 L477.7,388.8 L479.7,389.1 L481.7,389.4 L483.7,389.7 L485.7,390.0 L487.7,390.3 L489.7,390.5 L491.7,390.8 L493.6,391.1 L495.6,391.3 L497.6,391.6 L499.6,391.8 L501.6,392.1 L503.6,392.3 L505.6,392.5 L507.6,392.8 L509.6,393.0 L511.6,393.2 L513.6,393.4 L515.6,393.6 L517.6,393.9 L519.6,394.1 L521.6,394.3 L523.6,394.5 L525.6,394.7 L527.6,394.8 L529.6,395.0 L531.6,395.2 L533.6,395.4 L535.6,395.6 L537.6,395.7 L539.6,395.9 L541.6,396.1 L543.6,396.2 L545.6,396.4 L547.6,396.5 L549.6,396.7 L551.6,396.8 L553.6,397.0 L555.6,397.1 L557.6,397.2 L559.6,397.4 L561.6,397.5 L563.6,397.6 L565.6,397.8 L567.6,397.9 L569.6,398.0 L571.6,398.1 L573.7,398.2 L575.7,398.3 L577.7,398.4 L579.7,398.5 L581.7,398.6 L583.7,398.7 L585.7,398.8 L587.7,398.8 L589.7,398.9 L591.7,399.0 L593.7,399.1 L595.7,399.1 L597.7,399.2 L599.7,399.3 L601.8,399.3 L603.8,399.4 L605.8,399.4 L607.8,399.5 L609.8,399.6 L611.8,399.7 L613.8,399.8 L615.8,399.8" fill="none" stroke="#000000" stroke-width="4.2" stroke-linejoin="round" stroke-linecap="round"/>
<path d="M226.7,113.9 V184.1 M214.5,113.9 H238.9 M214.5,184.1 H238.9" stroke="#000000" stroke-width="3.8" fill="none"/>
<path d="M262.1,138.7 V252.4 M249.9,138.7 H274.2 M249.9,252.4 H274.2" stroke="#000000" stroke-width="3.8" fill="none"/>
<path d="M332.8,324.0 V351.2 M320.6,324.0 H345.0 M320.6,351.2 H345.0" stroke="#000000" stroke-width="3.8" fill="none"/>
<path d="M180.1,83.4 L185.5,72.9 L197.1,72.9 L202.5,83.4 L197.1,93.9 L185.5,93.9 Z" fill="#00ff00" stroke="#000000" stroke-width="4.4" stroke-linejoin="miter"/>
<path d="M215.5,148.4 L220.9,137.9 L232.5,137.9 L237.9,148.4 L232.5,158.9 L220.9,158.9 Z" fill="#00ff00" stroke="#000000" stroke-width="4.4" stroke-linejoin="miter"/>
<path d="M250.9,195.1 L256.2,184.6 L267.9,184.6 L273.2,195.1 L267.9,205.6 L256.2,205.6 Z" fill="#00ff00" stroke="#000000" stroke-width="4.4" stroke-linejoin="miter"/>
<path d="M286.2,309.4 L291.6,298.9 L303.2,298.9 L308.6,309.4 L303.2,319.9 L291.6,319.9 Z" fill="#00ff00" stroke="#000000" stroke-width="4.4" stroke-linejoin="miter"/>
<path d="M321.6,338.2 L327.0,327.7 L338.6,327.7 L344.0,338.2 L338.6,348.7 L327.0,348.7 Z" fill="#00ff00" stroke="#000000" stroke-width="4.4" stroke-linejoin="miter"/>
<path d="M357.0,369.1 L362.4,358.6 L374.0,358.6 L379.4,369.1 L374.0,379.6 L362.4,379.6 Z" fill="#00ff00" stroke="#000000" stroke-width="4.4" stroke-linejoin="miter"/>
<path d="M392.4,381.7 L397.8,371.2 L409.4,371.2 L414.8,381.7 L409.4,392.2 L397.8,392.2 Z" fill="#00ff00" stroke="#000000" stroke-width="4.4" stroke-linejoin="miter"/>
<path d="M463.1,385.0 L468.5,374.5 L480.1,374.5 L485.5,385.0 L480.1,395.5 L468.5,395.5 Z" fill="#00ff00" stroke="#000000" stroke-width="4.4" stroke-linejoin="miter"/>
<path d="M533.8,385.0 L539.2,374.5 L550.8,374.5 L556.2,385.0 L550.8,395.5 L539.2,395.5 Z" fill="#00ff00" stroke="#000000" stroke-width="4.4" stroke-linejoin="miter"/>
<path d="M604.6,385.6 L610.0,375.1 L621.6,375.1 L627.0,385.6 L621.6,396.1 L610.0,396.1 Z" fill="#00ff00" stroke="#000000" stroke-width="4.4" stroke-linejoin="miter"/>
<path clip-path="url(#ca)" d="M191.3,86.4 L192.1,88.1 L192.5,90.1 L192.8,92.1 L193.0,94.1 L193.3,96.1 L193.5,98.1 L193.5,96.2 L193.6,94.1 L193.6,92.1 L193.6,90.1 L193.6,88.1 L193.7,86.1 L193.7,84.1 L194.0,85.9 L194.2,87.9 L194.4,89.9 L194.5,91.9 L194.7,93.9 L194.9,95.9 L195.0,98.0 L195.2,100.0 L195.3,102.0 L195.5,104.0 L195.6,106.0 L195.8,108.0 L195.9,110.0 L196.1,112.0 L196.2,114.0 L196.4,116.0 L196.5,118.0 L196.7,120.0 L196.8,122.0 L197.0,124.0 L197.1,126.0 L197.3,128.0 L197.4,130.0 L197.6,132.0 L197.8,134.1 L197.9,136.1 L198.1,138.1 L198.2,140.1 L198.4,142.1 L198.6,144.1 L198.7,146.1 L198.9,148.1 L199.1,150.1 L199.2,152.1 L199.4,154.1 L199.6,156.1 L199.8,158.1 L199.9,160.1 L200.1,162.1 L200.3,164.1 L200.5,166.1 L200.7,168.1 L200.9,170.1 L201.1,172.1 L201.3,174.1 L201.5,176.1 L201.7,178.1 L201.9,180.1 L202.1,182.1 L202.3,184.1 L202.6,186.1 L202.8,188.1 L203.0,190.1 L203.3,192.1 L203.5,194.1 L203.7,196.1 L204.0,198.1 L204.2,200.1 L204.5,202.1 L204.7,204.1 L205.0,206.1 L205.3,208.1 L205.6,210.1 L205.8,212.1 L206.1,214.1 L206.4,216.1 L206.7,218.0 L207.0,220.0 L207.3,222.0 L207.7,224.0 L208.0,226.0 L208.3,228.0 L208.7,229.9 L209.1,231.9 L209.4,233.9 L209.8,235.9 L210.2,237.8 L210.6,239.8 L211.0,241.8 L211.5,243.7 L211.9,245.7 L212.4,247.7 L212.9,249.6 L213.4,251.6 L213.9,253.5 L214.4,255.5 L215.0,257.4 L215.5,259.3 L216.1,261.2 L216.8,263.1 L217.4,265.1 L218.1,266.9 L218.8,268.8 L219.5,270.7 L220.3,272.6 L221.1,274.4 L221.9,276.2 L222.8,278.1 L223.6,279.9 L224.5,281.7 L225.4,283.5 L226.3,285.3 L227.2,287.1 L228.1,288.9 L229.1,290.6 L230.1,292.4 L231.2,294.1 L232.2,295.8 L233.3,297.5 L234.4,299.2 L235.6,300.8 L236.8,302.4 L238.0,304.1 L239.2,305.6 L240.5,307.2 L241.7,308.8 L243.1,310.3 L244.4,311.8 L245.8,313.2 L247.2,314.7 L248.6,316.1 L250.1,317.5 L251.5,318.9 L253.0,320.2 L254.6,321.5 L256.1,322.8 L257.7,324.1 L259.3,325.3 L260.9,326.5 L262.5,327.7 L264.2,328.8 L265.8,330.0 L267.5,331.1 L269.2,332.1 L270.9,333.2 L272.6,334.2 L274.4,335.2 L276.1,336.2 L277.9,337.2 L279.7,338.1 L281.5,339.1 L283.3,340.0 L285.1,340.8 L286.9,341.7 L288.7,342.5 L290.5,343.4 L292.4,344.2 L294.2,344.9 L296.1,345.7 L298.0,346.5 L299.8,347.2 L301.7,347.9 L303.6,348.6 L305.5,349.3 L307.4,350.0 L309.3,350.6 L311.2,351.3 L313.1,351.9 L315.0,352.5 L316.9,353.1 L318.9,353.7 L320.8,354.3 L322.7,354.9 L324.6,355.4 L326.6,356.0 L328.5,356.5 L330.5,357.1 L332.4,357.6 L334.3,358.1 L336.3,358.6 L338.2,359.1 L340.2,359.6 L342.2,360.0 L344.1,360.5 L346.1,360.9 L348.0,361.4 L350.0,361.8 L352.0,362.3 L353.9,362.7 L355.9,363.1 L357.9,363.5 L359.8,363.9 L361.8,364.3 L363.8,364.7 L365.8,365.1 L367.7,365.5 L369.7,365.9 L371.7,366.2 L373.7,366.6 L375.6,366.9 L377.6,367.3 L379.6,367.6 L381.6,368.0 L383.6,368.3 L385.6,368.6 L387.5,369.0 L389.5,369.3 L391.5,369.6 L393.5,369.9 L395.5,370.2 L397.5,370.5 L399.5,370.8 L401.5,371.1 L403.4,371.4 L405.4,371.7 L407.4,372.0 L409.4,372.3 L411.4,372.5 L413.4,372.8 L415.4,373.1 L417.4,373.3 L419.4,373.6 L421.4,373.9 L423.4,374.1 L425.4,374.4 L427.4,374.6 L429.4,374.9 L431.4,375.1 L433.4,375.4 L435.4,375.6 L437.3,375.8 L439.3,376.1 L441.3,376.3 L443.3,376.5 L445.3,376.7 L447.3,377.0 L449.3,377.2 L451.3,377.4 L453.3,377.6 L455.3,377.8 L457.3,378.0 L459.3,378.2 L461.3,378.5 L463.3,378.7 L465.3,378.9 L467.3,379.1 L469.3,379.3 L471.4,379.5 L473.4,379.6 L475.4,379.8 L477.4,380.0 L479.4,380.2 L481.4,380.4 L483.4,380.6 L485.4,380.8 L487.4,380.9 L489.4,381.1 L491.4,381.3 L493.4,381.5 L495.4,381.6 L497.4,381.8 L499.4,382.0 L501.4,382.1 L503.4,382.3 L505.4,382.5 L507.4,382.6 L509.4,382.8 L511.4,383.0 L513.4,383.1 L515.4,383.3 L517.4,383.4 L519.4,383.6 L521.5,383.7 L523.5,383.9 L525.5,384.0 L527.5,384.2 L529.5,384.3 L531.5,384.5 L533.5,384.6 L535.5,384.8 L537.5,384.9 L539.5,385.1 L541.5,385.2 L543.5,385.3 L545.5,385.5 L547.5,385.6 L549.5,385.8 L551.5,385.9 L553.6,386.0 L555.6,386.2 L557.6,386.3 L559.6,386.4 L561.6,386.6 L563.6,386.7 L565.6,386.8 L567.6,386.9 L569.6,387.1 L571.6,387.2 L573.6,387.3 L575.6,387.4 L577.6,387.6 L579.7,387.7 L581.7,387.8 L583.7,387.9 L585.7,388.0 L587.7,388.1 L589.7,388.3 L591.7,388.4 L593.7,388.5 L595.7,388.6 L597.7,388.7 L599.7,388.8 L601.7,388.9 L603.7,389.1 L605.8,389.2 L607.8,389.3 L609.8,389.4 L611.8,389.5 L613.8,389.6 L615.8,389.7" fill="none" stroke="#0000ff" stroke-width="4.3" stroke-dasharray="0 11.2" stroke-linecap="round"/>
<path clip-path="url(#ca)" d="M191.3,109.4 L191.5,111.4 L191.6,113.4 L191.8,115.4 L191.9,117.5 L192.0,119.5 L192.2,121.5 L192.3,123.5 L192.5,125.5 L192.7,127.5 L192.8,129.5 L193.0,131.5 L193.1,133.5 L193.3,135.5 L193.4,137.5 L193.6,139.5 L193.8,141.5 L193.9,143.5 L194.1,145.5 L194.2,147.5 L194.4,149.5 L194.6,151.5 L194.8,153.5 L194.9,155.5 L195.1,157.5 L195.3,159.5 L195.5,161.5 L195.7,163.5 L195.8,165.5 L196.0,167.5 L196.2,169.5 L196.4,171.5 L196.6,173.5 L196.8,175.5 L197.0,177.5 L197.3,179.5 L197.5,181.5 L197.7,183.5 L197.9,185.5 L198.1,187.5 L198.4,189.5 L198.6,191.5 L198.8,193.5 L199.1,195.5 L199.3,197.5 L199.6,199.5 L199.8,201.5 L200.1,203.5 L200.4,205.5 L200.6,207.5 L200.9,209.5 L201.2,211.5 L201.5,213.5 L201.8,215.5 L202.1,217.4 L202.4,219.4 L202.7,221.4 L203.0,223.4 L203.4,225.4 L203.7,227.4 L204.1,229.3 L204.5,231.3 L204.9,233.3 L205.3,235.2 L205.7,237.2 L206.2,239.2 L206.6,241.1 L207.1,243.1 L207.6,245.0 L208.0,247.0 L208.5,249.0 L209.0,250.9 L209.5,252.9 L210.0,254.8 L210.5,256.7 L211.0,258.7 L211.6,260.6 L212.1,262.6 L212.7,264.5 L213.2,266.4 L213.8,268.3 L214.4,270.3 L215.0,272.2 L215.6,274.1 L216.2,276.0 L216.8,277.9 L217.5,279.8 L218.1,281.7 L218.8,283.6 L219.5,285.5 L220.1,287.4 L220.8,289.3 L221.6,291.2 L222.3,293.1 L223.0,294.9 L223.8,296.8 L224.6,298.6 L225.4,300.5 L226.2,302.3 L227.1,304.1 L227.9,305.9 L228.8,307.7 L229.8,309.5 L230.7,311.3 L231.7,313.0 L232.7,314.8 L233.8,316.5 L234.8,318.2 L235.9,319.9 L237.1,321.6 L238.2,323.2 L239.4,324.8 L240.6,326.4 L241.9,328.0 L243.1,329.6 L244.4,331.1 L245.8,332.6 L247.1,334.1 L248.5,335.6 L249.9,337.0 L251.3,338.4 L252.8,339.8 L254.3,341.1 L255.8,342.5 L257.3,343.7 L258.9,345.0 L260.5,346.3 L262.1,347.5 L263.7,348.7 L265.4,349.8 L267.0,350.9 L268.7,352.0 L270.4,353.1 L272.1,354.2 L273.9,355.2 L275.6,356.2 L277.4,357.2 L279.1,358.1 L280.9,359.0 L282.7,359.9 L284.5,360.8 L286.3,361.7 L288.2,362.5 L290.0,363.3 L291.8,364.1 L293.7,364.9 L295.6,365.7 L297.4,366.4 L299.3,367.1 L301.2,367.8 L303.1,368.5 L305.0,369.2 L306.9,369.8 L308.8,370.5 L310.7,371.1 L312.6,371.7 L314.5,372.3 L316.5,372.9 L318.4,373.4 L320.3,374.0 L322.3,374.5 L324.2,375.1 L326.1,375.6 L328.1,376.1 L330.0,376.6 L332.0,377.1 L333.9,377.5 L335.9,378.0 L337.9,378.5 L339.8,378.9 L341.8,379.3 L343.7,379.8 L345.7,380.2 L347.7,380.6 L349.7,381.0 L351.6,381.4 L353.6,381.8 L355.6,382.2 L357.5,382.5 L359.5,382.9 L361.5,383.3 L363.5,383.6 L365.5,384.0 L367.4,384.3 L369.4,384.6 L371.4,385.0 L373.4,385.3 L375.4,385.6 L377.4,385.9 L379.4,386.2 L381.3,386.5 L383.3,386.8 L385.3,387.1 L387.3,387.4 L389.3,387.7 L391.3,388.0 L393.3,388.2 L395.3,388.5 L397.3,388.8 L399.3,389.0 L401.3,389.3 L403.3,389.6 L405.2,389.8 L407.2,390.0 L409.2,390.3 L411.2,390.5 L413.2,390.8 L415.2,391.0 L417.2,391.2 L419.2,391.4 L421.2,391.7 L423.2,391.9 L425.2,392.1 L427.2,392.3 L429.2,392.5 L431.2,392.7 L433.2,392.9 L435.2,393.1 L437.2,393.3 L439.2,393.5 L441.2,393.7 L443.2,393.9 L445.2,394.1 L447.2,394.3 L449.2,394.5 L451.2,394.7 L453.2,394.8 L455.2,395.0 L457.2,395.2 L459.2,395.4 L461.2,395.5 L463.3,395.7 L465.3,395.9 L467.3,396.0 L469.3,396.2 L471.3,396.3 L473.3,396.5 L475.3,396.7 L477.3,396.8 L479.3,397.0 L481.3,397.1 L483.3,397.3 L485.3,397.4 L487.3,397.6 L489.3,397.7 L491.3,397.8 L493.3,398.0 L495.3,398.1 L497.3,398.3 L499.3,398.4 L501.3,398.5 L503.4,398.7 L505.4,398.8 L507.4,398.9 L509.4,399.1 L511.4,399.2 L513.4,399.3 L515.4,399.5 L517.4,399.6 L519.4,399.7 L521.4,399.8 L523.4,399.9 L525.4,400.1 L527.4,400.2 L529.4,400.3 L531.5,400.4 L533.5,400.5 L535.5,400.6 L537.5,400.8 L539.5,400.9 L541.5,401.0 L543.5,401.1 L545.5,401.2 L547.5,401.3 L549.5,401.4 L551.5,401.5 L553.5,401.6 L555.5,401.7 L557.6,401.8 L559.6,401.9 L561.6,402.0 L563.6,402.1 L565.6,402.2 L567.6,402.3 L569.6,402.4 L571.6,402.5 L573.6,402.6 L575.6,402.7 L577.6,402.8 L579.6,402.9 L581.7,403.0 L583.7,403.1 L585.7,403.2 L587.7,403.3 L589.7,403.4 L591.7,403.5 L593.7,403.5 L595.7,403.6 L597.7,403.7 L599.7,403.8 L601.7,403.9 L603.7,404.0 L605.8,404.1 L607.8,404.1 L609.8,404.2 L611.8,404.3 L613.8,404.4 L615.8,404.5" fill="none" stroke="#0000ff" stroke-width="4.3" stroke-dasharray="0 11.2" stroke-linecap="round"/>
<path clip-path="url(#ca)" d="M191.3,83.6 L191.6,85.5 L191.8,87.5 L192.0,89.5 L192.2,91.5 L192.4,93.5 L192.5,95.5 L192.7,97.5 L192.9,99.5 L193.0,101.5 L193.2,103.5 L193.3,105.5 L193.5,107.6 L193.6,109.6 L193.8,111.6 L193.9,113.6 L194.1,115.6 L194.2,117.6 L194.4,119.6 L194.5,121.6 L194.7,123.6 L194.8,125.6 L195.0,127.6 L195.1,129.6 L195.3,131.6 L195.4,133.6 L195.6,135.6 L195.7,137.6 L195.9,139.6 L196.1,141.6 L196.2,143.6 L196.4,145.6 L196.6,147.6 L196.7,149.6 L196.9,151.6 L197.1,153.6 L197.2,155.6 L197.4,157.6 L197.6,159.6 L197.8,161.6 L198.0,163.6 L198.2,165.6 L198.3,167.6 L198.5,169.6 L198.7,171.6 L198.9,173.6 L199.1,175.6 L199.3,177.6 L199.6,179.6 L199.8,181.6 L200.0,183.6 L200.2,185.6 L200.4,187.6 L200.7,189.6 L200.9,191.5 L201.1,193.5 L201.4,195.5 L201.6,197.5 L201.9,199.5 L202.1,201.5 L202.4,203.5 L202.7,205.5 L202.9,207.5 L203.2,209.5 L203.5,211.5 L203.8,213.4 L204.1,215.4 L204.4,217.4 L204.7,219.4 L205.0,221.4 L205.3,223.4 L205.7,225.3 L206.0,227.3 L206.3,229.3 L206.7,231.3 L207.1,233.2 L207.4,235.2 L207.8,237.2 L208.2,239.2 L208.6,241.1 L209.0,243.1 L209.4,245.1 L209.9,247.0 L210.3,249.0 L210.8,250.9 L211.2,252.9 L211.7,254.8 L212.2,256.8 L212.7,258.7 L213.2,260.7 L213.8,262.6 L214.3,264.5 L214.9,266.5 L215.5,268.4 L216.1,270.3 L216.7,272.2 L217.3,274.1 L218.0,276.0 L218.6,277.9 L219.3,279.8 L220.0,281.7 L220.7,283.5 L221.5,285.4 L222.3,287.3 L223.1,289.1 L223.9,290.9 L224.7,292.8 L225.6,294.6 L226.5,296.4 L227.4,298.2 L228.3,299.9 L229.3,301.7 L230.3,303.4 L231.3,305.2 L232.4,306.9 L233.4,308.6 L234.6,310.2 L235.7,311.9 L236.9,313.5 L238.1,315.1 L239.3,316.7 L240.5,318.3 L241.8,319.9 L243.1,321.4 L244.5,322.9 L245.8,324.4 L247.2,325.8 L248.6,327.2 L250.1,328.6 L251.5,330.0 L253.0,331.3 L254.5,332.6 L256.1,333.9 L257.6,335.2 L259.2,336.4 L260.8,337.6 L262.5,338.8 L264.1,340.0 L265.8,341.1 L267.5,342.2 L269.1,343.3 L270.9,344.3 L272.6,345.3 L274.3,346.3 L276.1,347.3 L277.9,348.3 L279.6,349.2 L281.4,350.1 L283.2,351.0 L285.0,351.8 L286.9,352.7 L288.7,353.5 L290.5,354.3 L292.4,355.1 L294.2,355.8 L296.1,356.6 L298.0,357.3 L299.9,358.0 L301.7,358.7 L303.6,359.4 L305.5,360.1 L307.4,360.7 L309.3,361.3 L311.2,362.0 L313.2,362.6 L315.1,363.2 L317.0,363.7 L318.9,364.3 L320.9,364.8 L322.8,365.4 L324.7,365.9 L326.7,366.4 L328.6,366.9 L330.6,367.4 L332.5,367.9 L334.5,368.4 L336.4,368.9 L338.4,369.3 L340.3,369.8 L342.3,370.2 L344.2,370.7 L346.2,371.1 L348.2,371.5 L350.1,371.9 L352.1,372.3 L354.1,372.7 L356.0,373.1 L358.0,373.5 L360.0,373.8 L362.0,374.2 L363.9,374.6 L365.9,374.9 L367.9,375.3 L369.9,375.6 L371.8,376.0 L373.8,376.3 L375.8,376.6 L377.8,376.9 L379.8,377.3 L381.8,377.6 L383.7,377.9 L385.7,378.2 L387.7,378.5 L389.7,378.7 L391.7,379.0 L393.7,379.3 L395.7,379.6 L397.6,379.9 L399.6,380.1 L401.6,380.4 L403.6,380.7 L405.6,380.9 L407.6,381.2 L409.6,381.4 L411.6,381.7 L413.6,381.9 L415.6,382.2 L417.6,382.4 L419.6,382.6 L421.6,382.9 L423.5,383.1 L425.5,383.3 L427.5,383.5 L429.5,383.8 L431.5,384.0 L433.5,384.2 L435.5,384.4 L437.5,384.6 L439.5,384.8 L441.5,385.0 L443.5,385.2 L445.5,385.4 L447.5,385.6 L449.5,385.8 L451.5,386.0 L453.5,386.2 L455.5,386.3 L457.5,386.5 L459.5,386.7 L461.5,386.9 L463.5,387.1 L465.5,387.3 L467.5,387.4 L469.5,387.6 L471.5,387.8 L473.5,387.9 L475.5,388.1 L477.5,388.3 L479.5,388.4 L481.5,388.6 L483.5,388.7 L485.5,388.9 L487.5,389.0 L489.5,389.2 L491.5,389.4 L493.5,389.5 L495.5,389.6 L497.5,389.8 L499.5,389.9 L501.5,390.1 L503.5,390.2 L505.5,390.4 L507.5,390.5 L509.5,390.6 L511.5,390.8 L513.6,390.9 L515.6,391.1 L517.6,391.2 L519.6,391.3 L521.6,391.4 L523.6,391.6 L525.6,391.7 L527.6,391.8 L529.6,392.0 L531.6,392.1 L533.6,392.2 L535.6,392.3 L537.6,392.4 L539.6,392.6 L541.6,392.7 L543.6,392.8 L545.6,392.9 L547.6,393.0 L549.6,393.2 L551.6,393.3 L553.6,393.4 L555.6,393.5 L557.6,393.6 L559.6,393.7 L561.7,393.8 L563.7,393.9 L565.7,394.0 L567.7,394.1 L569.7,394.2 L571.7,394.3 L573.7,394.5 L575.7,394.6 L577.7,394.7 L579.7,394.8 L581.7,394.9 L583.7,395.0 L585.7,395.1 L587.7,395.1 L589.7,395.2 L591.7,395.3 L593.7,395.4 L595.7,395.5 L597.7,395.6 L599.8,395.7 L601.8,395.8 L603.8,395.9 L605.8,396.0 L607.8,396.1 L609.8,396.2 L611.8,396.3 L613.8,396.3 L615.8,396.4" fill="none" stroke="#0000ff" stroke-width="4.2" stroke-linejoin="round" stroke-linecap="round"/>
<path d="M209.0,219.6 V262.4 M196.8,219.6 H221.2 M196.8,262.4 H221.2" stroke="#0000ff" stroke-width="3.8" fill="none"/>
<path d="M226.7,263.7 V304.1 M214.5,263.7 H238.9 M214.5,304.1 H238.9" stroke="#0000ff" stroke-width="3.8" fill="none"/>
<path d="M191.3,72.0 L203.2,94.8 L179.4,94.8 Z" fill="#00ff00" stroke="#0000ff" stroke-width="4.4" stroke-linejoin="round"/>
<path d="M209.0,231.7 L220.9,254.5 L197.1,254.5 Z" fill="#00ff00" stroke="#0000ff" stroke-width="4.4" stroke-linejoin="round"/>
<path d="M226.7,273.8 L238.6,296.6 L214.8,296.6 Z" fill="#00ff00" stroke="#0000ff" stroke-width="4.4" stroke-linejoin="round"/>
<path d="M262.1,339.4 L273.9,362.2 L250.2,362.2 Z" fill="#00ff00" stroke="#0000ff" stroke-width="4.4" stroke-linejoin="round"/>
<path d="M332.8,368.8 L344.7,391.6 L320.9,391.6 Z" fill="#00ff00" stroke="#0000ff" stroke-width="4.4" stroke-linejoin="round"/>
<path d="M403.6,371.9 L415.4,394.7 L391.7,394.7 Z" fill="#00ff00" stroke="#0000ff" stroke-width="4.4" stroke-linejoin="round"/>
<path d="M474.3,371.9 L486.2,394.7 L462.4,394.7 Z" fill="#00ff00" stroke="#0000ff" stroke-width="4.4" stroke-linejoin="round"/>
<path d="M545.0,371.9 L556.9,394.7 L533.1,394.7 Z" fill="#00ff00" stroke="#0000ff" stroke-width="4.4" stroke-linejoin="round"/>
<path d="M615.8,374.9 L627.7,397.7 L603.9,397.7 Z" fill="#00ff00" stroke="#0000ff" stroke-width="4.4" stroke-linejoin="round"/>
<path clip-path="url(#cb)" d="M1053.8,410.6 L1055.1,409.2 L1056.0,407.4 L1056.8,405.5 L1057.5,403.6 L1058.2,401.7 L1058.8,399.8 L1059.4,397.9 L1059.9,396.0 L1060.5,394.1 L1061.0,392.1 L1061.5,390.2 L1062.1,388.2 L1062.6,386.3 L1063.1,384.3 L1063.6,382.4 L1064.0,380.5 L1064.5,378.5 L1065.0,376.6 L1065.5,374.6 L1066.0,372.7 L1066.4,370.7 L1066.9,368.8 L1067.4,366.8 L1067.9,364.9 L1068.3,362.9 L1068.8,360.9 L1069.3,359.0 L1069.7,357.0 L1070.2,355.1 L1070.7,353.1 L1071.2,351.2 L1071.6,349.2 L1072.1,347.3 L1072.6,345.3 L1073.1,343.4 L1073.5,341.4 L1074.0,339.5 L1074.5,337.5 L1075.0,335.6 L1075.5,333.7 L1076.0,331.7 L1076.5,329.8 L1077.0,327.8 L1077.5,325.9 L1078.0,323.9 L1078.5,322.0 L1079.1,320.1 L1079.6,318.1 L1080.1,316.2 L1080.7,314.2 L1081.2,312.3 L1081.7,310.4 L1082.3,308.4 L1082.8,306.5 L1083.4,304.6 L1084.0,302.7 L1084.5,300.7 L1085.1,298.8 L1085.7,296.9 L1086.3,295.0 L1086.9,293.1 L1087.5,291.1 L1088.1,289.2 L1088.7,287.3 L1089.4,285.4 L1090.0,283.5 L1090.6,281.6 L1091.3,279.7 L1092.0,277.8 L1092.6,275.9 L1093.3,274.0 L1094.0,272.2 L1094.7,270.3 L1095.4,268.4 L1096.1,266.5 L1096.8,264.6 L1097.6,262.8 L1098.3,260.9 L1099.1,259.1 L1099.9,257.2 L1100.6,255.4 L1101.4,253.5 L1102.3,251.7 L1103.1,249.8 L1103.9,248.0 L1104.8,246.2 L1105.6,244.4 L1106.5,242.6 L1107.4,240.8 L1108.3,239.0 L1109.2,237.2 L1110.1,235.4 L1111.1,233.7 L1112.1,231.9 L1113.0,230.1 L1114.0,228.4 L1115.1,226.7 L1116.1,224.9 L1117.1,223.2 L1118.2,221.5 L1119.3,219.8 L1120.4,218.2 L1121.5,216.5 L1122.7,214.8 L1123.8,213.2 L1125.0,211.6 L1126.2,210.0 L1127.4,208.4 L1128.6,206.8 L1129.9,205.2 L1131.2,203.7 L1132.5,202.2 L1133.8,200.6 L1135.1,199.1 L1136.5,197.7 L1137.9,196.2 L1139.3,194.8 L1140.7,193.3 L1142.1,191.9 L1143.6,190.5 L1145.0,189.2 L1146.5,187.8 L1148.0,186.5 L1149.6,185.2 L1151.1,183.9 L1152.7,182.7 L1154.3,181.4 L1155.9,180.2 L1157.5,179.0 L1159.1,177.9 L1160.8,176.7 L1162.4,175.6 L1164.1,174.5 L1165.8,173.4 L1167.5,172.4 L1169.2,171.3 L1171.0,170.3 L1172.7,169.3 L1174.5,168.3 L1176.2,167.4 L1178.0,166.5 L1179.8,165.5 L1181.6,164.7 L1183.4,163.8 L1185.2,162.9 L1187.1,162.1 L1188.9,161.3 L1190.7,160.5 L1192.6,159.7 L1194.4,159.0 L1196.3,158.2 L1198.2,157.5 L1200.1,156.8 L1202.0,156.1 L1203.8,155.4 L1205.7,154.8 L1207.6,154.1 L1209.6,153.5 L1211.5,152.9 L1213.4,152.3 L1215.3,151.7 L1217.2,151.2 L1219.2,150.6 L1221.1,150.1 L1223.0,149.5 L1225.0,149.0 L1226.9,148.5 L1228.8,148.0 L1230.8,147.5 L1232.7,147.0 L1234.7,146.6 L1236.7,146.1 L1238.6,145.7 L1240.6,145.2 L1242.5,144.8 L1244.5,144.4 L1246.5,144.0 L1248.4,143.6 L1250.4,143.2 L1252.4,142.8 L1254.3,142.4 L1256.3,142.1 L1258.3,141.7 L1260.3,141.4 L1262.3,141.0 L1264.2,140.7 L1266.2,140.3 L1268.2,140.0 L1270.2,139.7 L1272.2,139.4 L1274.1,139.1 L1276.1,138.8 L1278.1,138.5 L1280.1,138.2 L1282.1,137.9 L1284.1,137.6 L1286.1,137.3 L1288.0,137.0 L1290.0,136.8 L1292.0,136.5 L1294.0,136.2 L1296.0,136.0 L1298.0,135.7 L1300.0,135.5 L1302.0,135.2 L1304.0,135.0 L1306.0,134.8 L1308.0,134.5 L1310.0,134.3 L1312.0,134.1 L1313.9,133.8 L1315.9,133.6 L1317.9,133.4 L1319.9,133.2 L1321.9,133.0 L1323.9,132.7 L1325.9,132.5 L1327.9,132.3 L1329.9,132.1 L1331.9,131.9 L1333.9,131.7 L1335.9,131.5 L1337.9,131.3 L1339.9,131.1 L1341.9,130.9 L1343.9,130.7 L1345.9,130.5 L1347.9,130.3 L1349.9,130.1 L1351.9,130.0 L1353.9,129.8 L1355.9,129.6 L1357.9,129.4 L1359.9,129.2 L1361.9,129.0 L1363.9,128.8 L1365.9,128.6 L1367.9,128.5 L1369.9,128.3 L1371.9,128.1 L1373.9,127.9 L1375.9,127.7 L1377.9,127.6 L1379.9,127.4 L1381.9,127.2 L1383.9,127.0 L1385.9,126.8 L1387.9,126.7 L1389.9,126.5 L1391.9,126.3 L1393.9,126.1 L1395.9,125.9 L1397.9,125.8 L1399.9,125.6 L1401.9,125.4 L1403.9,125.2 L1405.9,125.0 L1407.9,124.9 L1409.9,124.7 L1411.9,124.5 L1413.9,124.3 L1415.9,124.1 L1417.9,123.9 L1419.9,123.7 L1421.9,123.6 L1423.9,123.4 L1425.9,123.2 L1427.9,123.0 L1429.9,122.8 L1431.9,122.6 L1433.9,122.4 L1435.9,122.2 L1437.9,122.0 L1439.9,121.8 L1441.9,121.6 L1443.9,121.4 L1445.9,121.2 L1447.9,121.0 L1449.9,120.8 L1451.8,120.6 L1453.8,120.4 L1455.8,120.2 L1457.8,120.0 L1459.8,119.8 L1461.8,119.6 L1463.8,119.5 L1465.8,119.4 L1467.8,119.3 L1469.9,119.2 L1471.9,119.1 L1473.9,119.1 L1475.9,119.0 L1477.9,118.9" fill="none" stroke="#0000ff" stroke-width="4.3" stroke-dasharray="0 11.2" stroke-linecap="round"/>
<path clip-path="url(#cb)" d="M1053.8,541.8 L1053.8,539.8 L1053.9,537.8 L1053.9,535.8 L1053.9,533.8 L1053.9,531.8 L1054.0,529.8 L1054.0,527.8 L1054.1,525.8 L1054.2,523.8 L1054.2,521.8 L1054.3,519.8 L1054.4,517.8 L1054.5,515.8 L1054.6,513.8 L1054.7,511.8 L1054.8,509.8 L1054.9,507.7 L1055.0,505.7 L1055.2,503.7 L1055.3,501.7 L1055.4,499.7 L1055.6,497.7 L1055.7,495.7 L1055.9,493.7 L1056.1,491.7 L1056.2,489.7 L1056.4,487.7 L1056.6,485.7 L1056.8,483.7 L1056.9,481.7 L1057.1,479.7 L1057.3,477.8 L1057.5,475.8 L1057.7,473.8 L1058.0,471.8 L1058.2,469.8 L1058.4,467.8 L1058.6,465.8 L1058.9,463.8 L1059.1,461.8 L1059.3,459.8 L1059.6,457.8 L1059.8,455.8 L1060.1,453.8 L1060.4,451.9 L1060.6,449.9 L1060.9,447.9 L1061.2,445.9 L1061.5,443.9 L1061.8,441.9 L1062.0,439.9 L1062.3,437.9 L1062.6,436.0 L1063.0,434.0 L1063.3,432.0 L1063.6,430.0 L1063.9,428.0 L1064.2,426.1 L1064.6,424.1 L1064.9,422.1 L1065.2,420.1 L1065.6,418.2 L1065.9,416.2 L1066.3,414.2 L1066.7,412.2 L1067.0,410.3 L1067.4,408.3 L1067.8,406.3 L1068.2,404.3 L1068.6,402.4 L1068.9,400.4 L1069.3,398.4 L1069.7,396.5 L1070.2,394.5 L1070.6,392.6 L1071.0,390.6 L1071.4,388.6 L1071.8,386.7 L1072.3,384.7 L1072.7,382.8 L1073.2,380.8 L1073.6,378.8 L1074.1,376.9 L1074.5,374.9 L1075.0,373.0 L1075.5,371.0 L1076.0,369.1 L1076.5,367.1 L1077.0,365.2 L1077.5,363.3 L1078.0,361.3 L1078.5,359.4 L1079.0,357.4 L1079.5,355.5 L1080.0,353.6 L1080.6,351.6 L1081.1,349.7 L1081.7,347.8 L1082.2,345.8 L1082.8,343.9 L1083.4,342.0 L1083.9,340.1 L1084.5,338.2 L1085.1,336.2 L1085.7,334.3 L1086.3,332.4 L1086.9,330.5 L1087.6,328.6 L1088.2,326.7 L1088.8,324.8 L1089.5,322.9 L1090.1,321.0 L1090.8,319.1 L1091.5,317.2 L1092.2,315.3 L1092.8,313.4 L1093.5,311.6 L1094.2,309.7 L1095.0,307.8 L1095.7,305.9 L1096.4,304.1 L1097.2,302.2 L1097.9,300.3 L1098.7,298.5 L1099.5,296.6 L1100.2,294.8 L1101.0,293.0 L1101.8,291.1 L1102.7,289.3 L1103.5,287.5 L1104.3,285.6 L1105.2,283.8 L1106.0,282.0 L1106.9,280.2 L1107.8,278.4 L1108.7,276.6 L1109.6,274.8 L1110.5,273.0 L1111.5,271.3 L1112.4,269.5 L1113.4,267.7 L1114.3,266.0 L1115.3,264.2 L1116.3,262.5 L1117.4,260.8 L1118.4,259.0 L1119.4,257.3 L1120.5,255.6 L1121.6,253.9 L1122.7,252.3 L1123.8,250.6 L1124.9,248.9 L1126.0,247.3 L1127.2,245.6 L1128.3,244.0 L1129.5,242.4 L1130.7,240.8 L1132.0,239.2 L1133.2,237.6 L1134.4,236.0 L1135.7,234.5 L1137.0,232.9 L1138.3,231.4 L1139.6,229.9 L1140.9,228.4 L1142.3,226.9 L1143.7,225.4 L1145.1,224.0 L1146.5,222.6 L1147.9,221.1 L1149.3,219.7 L1150.8,218.4 L1152.2,217.0 L1153.7,215.6 L1155.2,214.3 L1156.7,213.0 L1158.3,211.7 L1159.8,210.4 L1161.4,209.2 L1163.0,207.9 L1164.6,206.7 L1166.2,205.5 L1167.8,204.4 L1169.4,203.2 L1171.1,202.1 L1172.8,200.9 L1174.4,199.8 L1176.1,198.8 L1177.8,197.7 L1179.5,196.7 L1181.3,195.6 L1183.0,194.6 L1184.7,193.6 L1186.5,192.7 L1188.3,191.7 L1190.0,190.8 L1191.8,189.9 L1193.6,189.0 L1195.4,188.1 L1197.3,187.3 L1199.1,186.4 L1200.9,185.6 L1202.7,184.8 L1204.6,184.0 L1206.4,183.2 L1208.3,182.5 L1210.2,181.7 L1212.0,181.0 L1213.9,180.3 L1215.8,179.6 L1217.7,178.9 L1219.6,178.3 L1221.5,177.6 L1223.4,177.0 L1225.3,176.4 L1227.2,175.8 L1229.1,175.2 L1231.0,174.6 L1233.0,174.0 L1234.9,173.5 L1236.8,172.9 L1238.7,172.4 L1240.7,171.9 L1242.6,171.3 L1244.6,170.8 L1246.5,170.4 L1248.5,169.9 L1250.4,169.4 L1252.4,168.9 L1254.3,168.5 L1256.3,168.1 L1258.2,167.6 L1260.2,167.2 L1262.2,166.8 L1264.1,166.4 L1266.1,166.0 L1268.1,165.6 L1270.0,165.2 L1272.0,164.9 L1274.0,164.5 L1276.0,164.2 L1277.9,163.8 L1279.9,163.5 L1281.9,163.1 L1283.9,162.8 L1285.8,162.5 L1287.8,162.2 L1289.8,161.9 L1291.8,161.6 L1293.8,161.3 L1295.8,161.0 L1297.7,160.7 L1299.7,160.4 L1301.7,160.2 L1303.7,159.9 L1305.7,159.7 L1307.7,159.4 L1309.7,159.2 L1311.7,158.9 L1313.7,158.7 L1315.7,158.5 L1317.7,158.2 L1319.6,158.0 L1321.6,157.8 L1323.6,157.6 L1325.6,157.4 L1327.6,157.2 L1329.6,157.0 L1331.6,156.8 L1333.6,156.6 L1335.6,156.4 L1337.6,156.2 L1339.6,156.1 L1341.6,155.9 L1343.6,155.7 L1345.6,155.6 L1347.6,155.4 L1349.6,155.2 L1351.6,155.1 L1353.6,155.0 L1355.6,154.8 L1357.6,154.7 L1359.6,154.5 L1361.6,154.4 L1363.6,154.3 L1365.6,154.1 L1367.6,154.0 L1369.6,153.9 L1371.6,153.8 L1373.6,153.7 L1375.6,153.6 L1377.6,153.5 L1379.6,153.4 L1381.6,153.3 L1383.7,153.2 L1385.7,153.1 L1387.7,153.0 L1389.7,152.9 L1391.7,152.8 L1393.7,152.7 L1395.7,152.7 L1397.7,152.6 L1399.7,152.5 L1401.7,152.5 L1403.7,152.4 L1405.7,152.3 L1407.7,152.3 L1409.7,152.2 L1411.7,152.2 L1413.7,152.1 L1415.7,152.1 L1417.7,152.0 L1419.7,152.0 L1421.7,151.9 L1423.8,151.9 L1425.8,151.9 L1427.8,151.8 L1429.8,151.8 L1431.8,151.7 L1433.8,151.6 L1435.8,151.5 L1437.8,151.4 L1439.8,151.3 L1441.8,151.2 L1443.8,151.2 L1445.8,151.1 L1447.8,151.0 L1449.8,150.9 L1451.8,150.8 L1453.8,150.7 L1455.8,150.7 L1457.8,150.6 L1459.8,150.5 L1461.8,150.4 L1463.8,150.4 L1465.9,150.3 L1467.9,150.2 L1469.9,150.1 L1471.9,150.1 L1473.9,150.0 L1475.9,149.9 L1477.9,149.8" fill="none" stroke="#0000ff" stroke-width="4.3" stroke-dasharray="0 11.2" stroke-linecap="round"/>
<path clip-path="url(#cb)" d="M1053.8,431.6 L1054.8,429.8 L1055.5,428.0 L1056.1,426.1 L1056.7,424.1 L1057.3,422.2 L1057.9,420.3 L1058.4,418.4 L1058.9,416.4 L1059.4,414.5 L1059.9,412.5 L1060.4,410.6 L1060.9,408.6 L1061.4,406.7 L1061.8,404.7 L1062.3,402.8 L1062.8,400.8 L1063.2,398.9 L1063.7,396.9 L1064.2,395.0 L1064.6,393.0 L1065.1,391.1 L1065.5,389.1 L1066.0,387.1 L1066.5,385.2 L1066.9,383.2 L1067.4,381.3 L1067.8,379.3 L1068.3,377.4 L1068.8,375.4 L1069.2,373.5 L1069.7,371.5 L1070.2,369.6 L1070.6,367.6 L1071.1,365.7 L1071.6,363.7 L1072.1,361.7 L1072.5,359.8 L1073.0,357.8 L1073.5,355.9 L1074.0,354.0 L1074.5,352.0 L1075.0,350.1 L1075.5,348.1 L1076.0,346.2 L1076.5,344.2 L1077.0,342.3 L1077.5,340.3 L1078.0,338.4 L1078.5,336.5 L1079.1,334.5 L1079.6,332.6 L1080.1,330.7 L1080.7,328.7 L1081.2,326.8 L1081.8,324.9 L1082.3,322.9 L1082.9,321.0 L1083.5,319.1 L1084.1,317.2 L1084.6,315.2 L1085.2,313.3 L1085.8,311.4 L1086.4,309.5 L1087.0,307.6 L1087.6,305.6 L1088.3,303.7 L1088.9,301.8 L1089.5,299.9 L1090.2,298.0 L1090.8,296.1 L1091.5,294.2 L1092.2,292.3 L1092.8,290.5 L1093.5,288.6 L1094.2,286.7 L1094.9,284.8 L1095.7,282.9 L1096.4,281.1 L1097.1,279.2 L1097.9,277.3 L1098.6,275.5 L1099.4,273.6 L1100.2,271.8 L1101.0,269.9 L1101.8,268.1 L1102.6,266.2 L1103.4,264.4 L1104.3,262.6 L1105.1,260.8 L1106.0,259.0 L1106.9,257.2 L1107.8,255.4 L1108.7,253.6 L1109.6,251.8 L1110.6,250.0 L1111.5,248.3 L1112.5,246.5 L1113.5,244.8 L1114.5,243.0 L1115.5,241.3 L1116.5,239.6 L1117.6,237.9 L1118.7,236.2 L1119.8,234.5 L1120.9,232.8 L1122.0,231.1 L1123.1,229.5 L1124.3,227.8 L1125.5,226.2 L1126.7,224.6 L1127.9,223.0 L1129.1,221.4 L1130.4,219.9 L1131.6,218.3 L1132.9,216.8 L1134.3,215.2 L1135.6,213.7 L1136.9,212.3 L1138.3,210.8 L1139.7,209.3 L1141.1,207.9 L1142.5,206.5 L1144.0,205.1 L1145.4,203.7 L1146.9,202.4 L1148.4,201.1 L1150.0,199.7 L1151.5,198.4 L1153.0,197.2 L1154.6,195.9 L1156.2,194.7 L1157.8,193.5 L1159.4,192.3 L1161.1,191.1 L1162.7,190.0 L1164.4,188.9 L1166.1,187.8 L1167.7,186.7 L1169.5,185.6 L1171.2,184.6 L1172.9,183.6 L1174.7,182.6 L1176.4,181.6 L1178.2,180.6 L1180.0,179.7 L1181.7,178.8 L1183.5,177.9 L1185.3,177.0 L1187.2,176.2 L1189.0,175.3 L1190.8,174.5 L1192.7,173.7 L1194.5,172.9 L1196.4,172.2 L1198.2,171.4 L1200.1,170.7 L1202.0,169.9 L1203.8,169.2 L1205.7,168.6 L1207.6,167.9 L1209.5,167.2 L1211.4,166.6 L1213.3,166.0 L1215.2,165.3 L1217.2,164.8 L1219.1,164.2 L1221.0,163.6 L1222.9,163.0 L1224.9,162.5 L1226.8,161.9 L1228.7,161.4 L1230.7,160.9 L1232.6,160.4 L1234.6,159.9 L1236.5,159.4 L1238.5,159.0 L1240.4,158.5 L1242.4,158.0 L1244.3,157.6 L1246.3,157.2 L1248.3,156.7 L1250.2,156.3 L1252.2,155.9 L1254.2,155.5 L1256.1,155.1 L1258.1,154.7 L1260.1,154.4 L1262.0,154.0 L1264.0,153.6 L1266.0,153.3 L1268.0,152.9 L1270.0,152.6 L1271.9,152.3 L1273.9,151.9 L1275.9,151.6 L1277.9,151.3 L1279.9,151.0 L1281.9,150.7 L1283.8,150.4 L1285.8,150.1 L1287.8,149.8 L1289.8,149.5 L1291.8,149.2 L1293.8,149.0 L1295.8,148.7 L1297.8,148.4 L1299.8,148.2 L1301.7,147.9 L1303.7,147.7 L1305.7,147.4 L1307.7,147.2 L1309.7,146.9 L1311.7,146.7 L1313.7,146.5 L1315.7,146.2 L1317.7,146.0 L1319.7,145.8 L1321.7,145.6 L1323.7,145.3 L1325.7,145.1 L1327.7,144.9 L1329.7,144.7 L1331.7,144.5 L1333.7,144.3 L1335.7,144.1 L1337.7,143.9 L1339.7,143.7 L1341.7,143.5 L1343.7,143.4 L1345.7,143.2 L1347.7,143.0 L1349.7,142.8 L1351.7,142.6 L1353.7,142.5 L1355.7,142.3 L1357.7,142.1 L1359.7,141.9 L1361.7,141.8 L1363.7,141.6 L1365.7,141.4 L1367.7,141.3 L1369.7,141.1 L1371.7,141.0 L1373.7,140.8 L1375.7,140.7 L1377.7,140.5 L1379.7,140.3 L1381.7,140.2 L1383.7,140.0 L1385.7,139.9 L1387.7,139.7 L1389.7,139.6 L1391.7,139.5 L1393.7,139.3 L1395.7,139.2 L1397.7,139.0 L1399.7,138.9 L1401.7,138.8 L1403.7,138.6 L1405.7,138.5 L1407.7,138.3 L1409.7,138.2 L1411.7,138.1 L1413.7,137.9 L1415.7,137.8 L1417.7,137.7 L1419.7,137.5 L1421.7,137.4 L1423.8,137.3 L1425.8,137.1 L1427.8,137.0 L1429.8,136.9 L1431.8,136.8 L1433.8,136.6 L1435.8,136.5 L1437.8,136.4 L1439.8,136.3 L1441.8,136.1 L1443.8,136.0 L1445.8,135.9 L1447.8,135.8 L1449.8,135.6 L1451.8,135.5 L1453.8,135.4 L1455.8,135.3 L1457.8,135.2 L1459.8,135.0 L1461.8,134.9 L1463.8,134.8 L1465.8,134.7 L1467.8,134.6 L1469.9,134.5 L1471.9,134.4 L1473.9,134.3 L1475.9,134.3 L1477.9,134.2" fill="none" stroke="#0000ff" stroke-width="4.2" stroke-linejoin="round" stroke-linecap="round"/>
<path d="M1071.5,341.9 V376.0 M1059.3,341.9 H1083.7 M1059.3,376.0 H1083.7" stroke="#0000ff" stroke-width="3.8" fill="none"/>
<path d="M1089.1,301.6 V338.5 M1076.9,301.6 H1101.3 M1076.9,338.5 H1101.3" stroke="#0000ff" stroke-width="3.8" fill="none"/>
<path d="M1124.5,214.0 V250.3 M1112.3,214.0 H1136.7 M1112.3,250.3 H1136.7" stroke="#0000ff" stroke-width="3.8" fill="none"/>
<path d="M1053.8,429.6 L1065.7,452.4 L1041.9,452.4 Z" fill="#00ff00" stroke="#0000ff" stroke-width="4.4" stroke-linejoin="round"/>
<path d="M1071.5,348.9 L1083.4,371.7 L1059.6,371.7 Z" fill="#00ff00" stroke="#0000ff" stroke-width="4.4" stroke-linejoin="round"/>
<path d="M1089.1,311.5 L1101.0,334.3 L1077.2,334.3 Z" fill="#00ff00" stroke="#0000ff" stroke-width="4.4" stroke-linejoin="round"/>
<path d="M1124.5,222.4 L1136.4,245.2 L1112.6,245.2 Z" fill="#00ff00" stroke="#0000ff" stroke-width="4.4" stroke-linejoin="round"/>
<path d="M1195.2,148.7 L1207.1,171.5 L1183.3,171.5 Z" fill="#00ff00" stroke="#0000ff" stroke-width="4.4" stroke-linejoin="round"/>
<path d="M1265.8,136.0 L1277.7,158.8 L1253.9,158.8 Z" fill="#00ff00" stroke="#0000ff" stroke-width="4.4" stroke-linejoin="round"/>
<path d="M1336.5,133.0 L1348.4,155.8 L1324.6,155.8 Z" fill="#00ff00" stroke="#0000ff" stroke-width="4.4" stroke-linejoin="round"/>
<path d="M1407.2,140.0 L1419.1,162.8 L1395.3,162.8 Z" fill="#00ff00" stroke="#0000ff" stroke-width="4.4" stroke-linejoin="round"/>
<path d="M1477.9,119.2 L1489.8,142.0 L1466.0,142.0 Z" fill="#00ff00" stroke="#0000ff" stroke-width="4.4" stroke-linejoin="round"/>
<path clip-path="url(#cb)" d="M1053.8,389.0 L1055.8,389.1 L1057.8,389.2 L1059.8,389.2 L1061.8,389.3 L1063.8,389.3 L1065.9,389.4 L1067.9,389.4 L1069.9,389.4 L1071.9,389.4 L1073.9,389.3 L1075.9,389.2 L1077.9,389.0 L1079.9,388.8 L1081.9,388.5 L1083.9,388.2 L1085.8,387.7 L1087.8,387.1 L1089.7,386.4 L1091.5,385.6 L1093.3,384.7 L1095.0,383.7 L1096.7,382.6 L1098.3,381.4 L1099.9,380.1 L1101.4,378.8 L1102.8,377.4 L1104.2,375.9 L1105.5,374.4 L1106.8,372.8 L1108.0,371.3 L1109.2,369.6 L1110.4,368.0 L1111.6,366.4 L1112.7,364.7 L1113.7,363.0 L1114.8,361.3 L1115.8,359.5 L1116.9,357.8 L1117.9,356.1 L1118.8,354.3 L1119.8,352.5 L1120.8,350.8 L1121.7,349.0 L1122.6,347.2 L1123.5,345.4 L1124.4,343.6 L1125.3,341.8 L1126.2,340.0 L1127.1,338.2 L1128.0,336.4 L1128.8,334.6 L1129.7,332.7 L1130.5,330.9 L1131.4,329.1 L1132.2,327.3 L1133.0,325.4 L1133.9,323.6 L1134.7,321.8 L1135.5,319.9 L1136.3,318.1 L1137.2,316.3 L1138.0,314.4 L1138.8,312.6 L1139.6,310.7 L1140.4,308.9 L1141.2,307.1 L1142.0,305.2 L1142.9,303.4 L1143.7,301.5 L1144.5,299.7 L1145.3,297.8 L1146.1,296.0 L1146.9,294.2 L1147.7,292.3 L1148.5,290.5 L1149.3,288.6 L1150.1,286.8 L1150.9,285.0 L1151.7,283.1 L1152.6,281.3 L1153.4,279.4 L1154.2,277.6 L1155.0,275.8 L1155.8,273.9 L1156.6,272.1 L1157.5,270.2 L1158.3,268.4 L1159.1,266.6 L1160.0,264.7 L1160.8,262.9 L1161.6,261.1 L1162.5,259.3 L1163.3,257.4 L1164.2,255.6 L1165.0,253.8 L1165.9,252.0 L1166.8,250.2 L1167.6,248.3 L1168.5,246.5 L1169.4,244.7 L1170.3,242.9 L1171.1,241.1 L1172.0,239.3 L1172.9,237.5 L1173.9,235.7 L1174.8,233.9 L1175.7,232.1 L1176.6,230.3 L1177.5,228.6 L1178.5,226.8 L1179.4,225.0 L1180.4,223.2 L1181.3,221.5 L1182.3,219.7 L1183.3,217.9 L1184.3,216.2 L1185.3,214.4 L1186.3,212.7 L1187.3,211.0 L1188.3,209.2 L1189.3,207.5 L1190.3,205.8 L1191.4,204.0 L1192.4,202.3 L1193.5,200.6 L1194.6,198.9 L1195.7,197.2 L1196.8,195.5 L1197.9,193.9 L1199.0,192.2 L1200.1,190.5 L1201.2,188.9 L1202.4,187.2 L1203.5,185.6 L1204.7,183.9 L1205.9,182.3 L1207.1,180.7 L1208.3,179.1 L1209.5,177.5 L1210.8,175.9 L1212.0,174.3 L1213.3,172.8 L1214.6,171.2 L1215.9,169.7 L1217.2,168.1 L1218.5,166.6 L1219.8,165.1 L1221.2,163.6 L1222.6,162.2 L1223.9,160.7 L1225.3,159.3 L1226.8,157.8 L1228.2,156.4 L1229.6,155.0 L1231.1,153.6 L1232.6,152.3 L1234.1,150.9 L1235.6,149.6 L1237.1,148.3 L1238.7,147.0 L1240.2,145.7 L1241.8,144.5 L1243.4,143.2 L1245.0,142.0 L1246.6,140.8 L1248.2,139.6 L1249.9,138.5 L1251.5,137.3 L1253.2,136.2 L1254.9,135.1 L1256.6,134.0 L1258.3,133.0 L1260.0,131.9 L1261.7,130.9 L1263.5,129.9 L1265.2,128.9 L1267.0,128.0 L1268.8,127.1 L1270.6,126.1 L1272.4,125.2 L1274.2,124.4 L1276.0,123.5 L1277.8,122.7 L1279.7,121.9 L1281.5,121.1 L1283.4,120.3 L1285.2,119.5 L1287.1,118.8 L1289.0,118.0 L1290.9,117.3 L1292.8,116.6 L1294.7,116.0 L1296.6,115.3 L1298.5,114.6 L1300.4,114.0 L1302.3,113.4 L1304.2,112.8 L1306.1,112.2 L1308.1,111.6 L1310.0,111.0 L1311.9,110.5 L1313.9,110.0 L1315.8,109.4 L1317.7,108.9 L1319.7,108.4 L1321.6,107.9 L1323.6,107.4 L1325.5,106.9 L1327.5,106.4 L1329.4,106.0 L1331.4,105.5 L1333.4,105.0 L1335.3,104.6 L1337.3,104.1 L1339.2,103.7 L1341.2,103.3 L1343.2,102.8 L1345.1,102.4 L1347.1,102.0 L1349.1,101.5 L1351.0,101.1 L1353.0,100.7 L1355.0,100.3 L1356.9,99.9 L1358.9,99.4 L1360.9,99.0 L1362.8,98.6 L1364.8,98.2 L1366.8,97.8 L1368.7,97.4 L1370.7,96.9 L1372.7,96.5 L1374.6,96.1 L1376.6,95.7 L1378.6,95.2 L1380.5,94.8 L1382.5,94.4 L1384.5,94.0 L1386.4,93.6 L1388.4,93.2 L1390.4,92.7 L1392.4,92.3 L1394.3,91.9 L1396.3,91.5 L1398.3,91.1 L1400.2,90.7 L1402.2,90.3 L1404.2,89.9 L1406.2,89.5 L1408.1,89.1 L1410.1,88.7 L1412.1,88.4 L1414.1,88.0 L1416.0,87.6 L1418.0,87.3 L1420.0,86.9 L1422.0,86.5 L1423.9,86.2 L1425.9,85.8 L1427.9,85.5 L1429.9,85.2 L1431.9,84.9 L1433.9,84.5 L1435.9,84.2 L1437.8,83.9 L1439.8,83.6 L1441.8,83.4 L1443.8,83.1 L1445.8,82.8 L1447.8,82.6 L1449.8,82.3 L1451.8,82.1 L1453.8,81.9 L1455.8,81.7 L1457.8,81.5 L1459.8,81.3 L1461.8,81.1 L1463.8,80.9 L1465.8,80.8 L1467.8,80.7 L1469.8,80.5 L1471.9,80.4 L1473.9,80.3 L1475.9,80.2 L1477.9,80.1" fill="none" stroke="#000000" stroke-width="4.3" stroke-dasharray="0 11.2" stroke-linecap="round"/>
<path clip-path="url(#cb)" d="M1053.8,471.4 L1055.8,471.4 L1057.8,471.3 L1059.8,471.2 L1061.8,471.1 L1063.8,470.9 L1065.8,470.6 L1067.8,470.3 L1069.8,469.8 L1071.7,469.3 L1073.6,468.8 L1075.5,468.1 L1077.4,467.4 L1079.3,466.6 L1081.1,465.8 L1082.9,464.8 L1084.6,463.9 L1086.4,462.8 L1088.0,461.7 L1089.7,460.6 L1091.3,459.4 L1092.9,458.1 L1094.4,456.8 L1095.9,455.5 L1097.4,454.1 L1098.9,452.8 L1100.3,451.3 L1101.7,449.9 L1103.0,448.4 L1104.4,446.9 L1105.7,445.4 L1107.0,443.8 L1108.2,442.3 L1109.5,440.7 L1110.7,439.1 L1111.9,437.5 L1113.1,435.8 L1114.2,434.2 L1115.4,432.6 L1116.5,430.9 L1117.7,429.2 L1118.8,427.5 L1119.8,425.9 L1120.9,424.2 L1122.0,422.4 L1123.0,420.7 L1124.0,419.0 L1125.1,417.3 L1126.1,415.5 L1127.1,413.8 L1128.1,412.0 L1129.0,410.3 L1130.0,408.5 L1131.0,406.7 L1131.9,405.0 L1132.9,403.2 L1133.8,401.4 L1134.7,399.6 L1135.6,397.8 L1136.5,396.0 L1137.4,394.2 L1138.3,392.4 L1139.2,390.6 L1140.1,388.8 L1141.0,387.0 L1141.9,385.2 L1142.7,383.4 L1143.6,381.6 L1144.5,379.8 L1145.3,378.0 L1146.2,376.1 L1147.0,374.3 L1147.9,372.5 L1148.7,370.7 L1149.6,368.8 L1150.4,367.0 L1151.2,365.2 L1152.1,363.4 L1152.9,361.5 L1153.7,359.7 L1154.6,357.9 L1155.4,356.0 L1156.2,354.2 L1157.0,352.4 L1157.9,350.5 L1158.7,348.7 L1159.5,346.9 L1160.3,345.0 L1161.1,343.2 L1162.0,341.3 L1162.8,339.5 L1163.6,337.7 L1164.4,335.8 L1165.3,334.0 L1166.1,332.2 L1166.9,330.3 L1167.7,328.5 L1168.6,326.7 L1169.4,324.8 L1170.2,323.0 L1171.0,321.2 L1171.9,319.3 L1172.7,317.5 L1173.5,315.7 L1174.4,313.9 L1175.2,312.0 L1176.1,310.2 L1176.9,308.4 L1177.8,306.6 L1178.6,304.7 L1179.5,302.9 L1180.3,301.1 L1181.2,299.3 L1182.0,297.5 L1182.9,295.7 L1183.8,293.8 L1184.7,292.0 L1185.6,290.2 L1186.5,288.4 L1187.3,286.6 L1188.2,284.8 L1189.1,283.0 L1190.1,281.2 L1191.0,279.4 L1191.9,277.7 L1192.8,275.9 L1193.8,274.1 L1194.7,272.3 L1195.6,270.5 L1196.6,268.8 L1197.6,267.0 L1198.5,265.2 L1199.5,263.5 L1200.5,261.7 L1201.5,260.0 L1202.5,258.2 L1203.5,256.5 L1204.5,254.8 L1205.5,253.0 L1206.6,251.3 L1207.6,249.6 L1208.7,247.9 L1209.8,246.2 L1210.8,244.5 L1211.9,242.8 L1213.0,241.1 L1214.1,239.5 L1215.3,237.8 L1216.4,236.1 L1217.5,234.5 L1218.7,232.8 L1219.9,231.2 L1221.1,229.6 L1222.3,228.0 L1223.5,226.4 L1224.7,224.8 L1225.9,223.2 L1227.2,221.6 L1228.5,220.0 L1229.7,218.5 L1231.0,217.0 L1232.4,215.4 L1233.7,213.9 L1235.0,212.4 L1236.4,211.0 L1237.8,209.5 L1239.2,208.0 L1240.6,206.6 L1242.0,205.2 L1243.4,203.8 L1244.9,202.4 L1246.3,201.0 L1247.8,199.7 L1249.3,198.3 L1250.9,197.0 L1252.4,195.7 L1253.9,194.4 L1255.5,193.2 L1257.1,191.9 L1258.7,190.7 L1260.3,189.5 L1261.9,188.3 L1263.6,187.2 L1265.2,186.0 L1266.9,184.9 L1268.6,183.8 L1270.3,182.7 L1272.0,181.7 L1273.7,180.7 L1275.5,179.7 L1277.2,178.7 L1279.0,177.7 L1280.8,176.8 L1282.6,175.8 L1284.4,174.9 L1286.2,174.1 L1288.0,173.2 L1289.8,172.4 L1291.7,171.6 L1293.5,170.8 L1295.4,170.0 L1297.2,169.2 L1299.1,168.5 L1301.0,167.8 L1302.8,167.1 L1304.7,166.4 L1306.6,165.7 L1308.5,165.1 L1310.5,164.5 L1312.4,163.9 L1314.3,163.3 L1316.2,162.7 L1318.2,162.1 L1320.1,161.6 L1322.0,161.1 L1324.0,160.6 L1325.9,160.1 L1327.9,159.6 L1329.8,159.1 L1331.8,158.7 L1333.8,158.2 L1335.7,157.8 L1337.7,157.4 L1339.7,157.0 L1341.6,156.6 L1343.6,156.2 L1345.6,155.9 L1347.6,155.5 L1349.6,155.2 L1351.5,154.9 L1353.5,154.5 L1355.5,154.2 L1357.5,153.9 L1359.5,153.6 L1361.5,153.4 L1363.5,153.1 L1365.5,152.8 L1367.5,152.6 L1369.5,152.4 L1371.5,152.1 L1373.5,151.9 L1375.5,151.7 L1377.5,151.5 L1379.5,151.3 L1381.5,151.1 L1383.5,150.9 L1385.5,150.7 L1387.5,150.6 L1389.5,150.4 L1391.5,150.3 L1393.5,150.1 L1395.5,150.0 L1397.5,149.9 L1399.5,149.8 L1401.5,149.6 L1403.5,149.5 L1405.5,149.4 L1407.5,149.3 L1409.5,149.2 L1411.6,149.2 L1413.6,149.1 L1415.6,149.0 L1417.6,149.0 L1419.6,148.9 L1421.6,148.9 L1423.6,148.8 L1425.6,148.8 L1427.6,148.7 L1429.6,148.7 L1431.7,148.7 L1433.7,148.7 L1435.7,148.7 L1437.7,148.7 L1439.7,148.7 L1441.7,148.7 L1443.7,148.7 L1445.7,148.7 L1447.7,148.7 L1449.7,148.8 L1451.8,148.8 L1453.8,148.9 L1455.8,148.9 L1457.8,149.0 L1459.8,149.0 L1461.8,149.1 L1463.8,149.2 L1465.8,149.2 L1467.8,149.3 L1469.8,149.4 L1471.9,149.5 L1473.9,149.6 L1475.9,149.7 L1477.9,149.7" fill="none" stroke="#000000" stroke-width="4.3" stroke-dasharray="0 11.2" stroke-linecap="round"/>
<path clip-path="url(#cb)" d="M1053.8,429.1 L1055.8,429.1 L1057.8,429.2 L1059.8,429.3 L1061.8,429.3 L1063.8,429.4 L1065.8,429.4 L1067.8,429.3 L1069.8,429.2 L1071.8,429.1 L1073.8,428.8 L1075.8,428.5 L1077.8,428.2 L1079.7,427.7 L1081.7,427.1 L1083.6,426.5 L1085.4,425.8 L1087.3,424.9 L1089.0,424.0 L1090.8,423.0 L1092.5,421.9 L1094.1,420.8 L1095.7,419.5 L1097.3,418.3 L1098.8,416.9 L1100.2,415.6 L1101.6,414.1 L1103.0,412.7 L1104.4,411.2 L1105.7,409.7 L1106.9,408.1 L1108.2,406.5 L1109.4,404.9 L1110.6,403.3 L1111.7,401.6 L1112.8,400.0 L1113.9,398.3 L1115.0,396.6 L1116.1,394.9 L1117.1,393.2 L1118.1,391.5 L1119.1,389.7 L1120.1,388.0 L1121.1,386.2 L1122.1,384.5 L1123.0,382.7 L1124.0,380.9 L1124.9,379.2 L1125.8,377.4 L1126.7,375.6 L1127.6,373.8 L1128.5,372.0 L1129.4,370.2 L1130.2,368.4 L1131.1,366.6 L1132.0,364.8 L1132.9,362.9 L1133.7,361.1 L1134.6,359.3 L1135.5,357.5 L1136.4,355.8 L1137.4,354.0 L1138.3,352.2 L1139.2,350.4 L1140.2,348.7 L1141.2,346.9 L1142.1,345.2 L1143.1,343.4 L1144.0,341.6 L1145.0,339.8 L1145.8,338.0 L1146.7,336.2 L1147.5,334.4 L1148.3,332.5 L1149.1,330.7 L1149.9,328.8 L1150.6,327.0 L1151.4,325.1 L1152.1,323.2 L1152.8,321.4 L1153.5,319.5 L1154.3,317.6 L1155.0,315.8 L1155.7,313.9 L1156.4,312.0 L1157.1,310.1 L1157.9,308.3 L1158.6,306.4 L1159.4,304.5 L1160.2,302.7 L1160.9,300.8 L1161.7,299.0 L1162.5,297.2 L1163.3,295.3 L1164.2,293.5 L1165.0,291.7 L1165.8,289.8 L1166.7,288.0 L1167.5,286.2 L1168.4,284.4 L1169.3,282.6 L1170.2,280.8 L1171.1,279.0 L1172.0,277.2 L1173.0,275.5 L1173.9,273.7 L1174.9,271.9 L1175.8,270.1 L1176.8,268.4 L1177.7,266.6 L1178.7,264.9 L1179.7,263.1 L1180.7,261.4 L1181.7,259.6 L1182.7,257.9 L1183.7,256.1 L1184.7,254.4 L1185.7,252.7 L1186.7,250.9 L1187.7,249.2 L1188.6,247.4 L1189.6,245.7 L1190.6,243.9 L1191.6,242.2 L1192.6,240.5 L1193.6,238.7 L1194.6,237.0 L1195.6,235.2 L1196.6,233.5 L1197.6,231.8 L1198.6,230.0 L1199.7,228.3 L1200.7,226.6 L1201.7,224.9 L1202.8,223.2 L1203.9,221.5 L1205.0,219.8 L1206.0,218.1 L1207.1,216.4 L1208.2,214.7 L1209.4,213.1 L1210.5,211.4 L1211.7,209.8 L1212.8,208.1 L1214.0,206.5 L1215.2,204.9 L1216.4,203.3 L1217.6,201.7 L1218.8,200.1 L1220.0,198.5 L1221.3,196.9 L1222.5,195.4 L1223.8,193.8 L1225.1,192.3 L1226.4,190.8 L1227.7,189.2 L1229.1,187.7 L1230.4,186.3 L1231.8,184.8 L1233.2,183.3 L1234.6,181.9 L1236.0,180.5 L1237.4,179.0 L1238.8,177.6 L1240.3,176.3 L1241.8,174.9 L1243.2,173.5 L1244.8,172.2 L1246.3,170.9 L1247.8,169.6 L1249.3,168.3 L1250.9,167.1 L1252.5,165.8 L1254.1,164.6 L1255.7,163.4 L1257.3,162.2 L1258.9,161.0 L1260.6,159.9 L1262.2,158.7 L1263.9,157.6 L1265.6,156.5 L1267.3,155.5 L1269.0,154.4 L1270.7,153.4 L1272.5,152.4 L1274.2,151.4 L1276.0,150.4 L1277.7,149.5 L1279.5,148.6 L1281.3,147.6 L1283.1,146.8 L1284.9,145.9 L1286.7,145.0 L1288.5,144.2 L1290.4,143.4 L1292.2,142.6 L1294.1,141.8 L1295.9,141.1 L1297.8,140.3 L1299.7,139.6 L1301.6,138.9 L1303.5,138.2 L1305.3,137.6 L1307.2,136.9 L1309.1,136.3 L1311.1,135.7 L1313.0,135.1 L1314.9,134.5 L1316.8,133.9 L1318.8,133.4 L1320.7,132.8 L1322.6,132.3 L1324.6,131.8 L1326.5,131.3 L1328.5,130.8 L1330.4,130.3 L1332.4,129.9 L1334.3,129.4 L1336.3,129.0 L1338.2,128.6 L1340.2,128.2 L1342.2,127.8 L1344.1,127.4 L1346.1,127.0 L1348.1,126.6 L1350.1,126.3 L1352.0,125.9 L1354.0,125.6 L1356.0,125.3 L1358.0,124.9 L1360.0,124.6 L1361.9,124.3 L1363.9,124.0 L1365.9,123.7 L1367.9,123.5 L1369.9,123.2 L1371.9,122.9 L1373.9,122.7 L1375.9,122.4 L1377.9,122.2 L1379.8,121.9 L1381.8,121.7 L1383.8,121.5 L1385.8,121.2 L1387.8,121.0 L1389.8,120.8 L1391.8,120.6 L1393.8,120.4 L1395.8,120.2 L1397.8,120.0 L1399.8,119.8 L1401.8,119.6 L1403.8,119.4 L1405.8,119.3 L1407.8,119.1 L1409.8,118.9 L1411.8,118.8 L1413.8,118.6 L1415.8,118.4 L1417.8,118.3 L1419.8,118.1 L1421.8,118.0 L1423.8,117.8 L1425.8,117.6 L1427.8,117.5 L1429.8,117.4 L1431.8,117.2 L1433.8,117.1 L1435.8,116.9 L1437.8,116.8 L1439.8,116.7 L1441.8,116.5 L1443.8,116.4 L1445.8,116.2 L1447.8,116.1 L1449.8,116.0 L1451.8,115.8 L1453.8,115.7 L1455.8,115.6 L1457.8,115.4 L1459.8,115.3 L1461.8,115.2 L1463.9,115.1 L1465.9,114.9 L1467.9,114.8 L1469.9,114.7 L1471.9,114.6 L1473.9,114.5 L1475.9,114.4 L1477.9,114.3" fill="none" stroke="#000000" stroke-width="4.2" stroke-linejoin="round" stroke-linecap="round"/>
<path d="M1089.1,393.4 V428.9 M1076.9,393.4 H1101.3 M1076.9,428.9 H1101.3" stroke="#000000" stroke-width="3.8" fill="none"/>
<path d="M1124.5,345.5 V414.0 M1112.3,345.5 H1136.7 M1112.3,414.0 H1136.7" stroke="#000000" stroke-width="3.8" fill="none"/>
<path d="M1195.2,229.5 V276.5 M1183.0,229.5 H1207.4 M1183.0,276.5 H1207.4" stroke="#000000" stroke-width="3.8" fill="none"/>
<path d="M1265.8,105.6 V168.6 M1253.6,105.6 H1278.0 M1253.6,168.6 H1278.0" stroke="#000000" stroke-width="3.8" fill="none"/>
<path d="M1336.5,86.4 V147.8 M1324.3,86.4 H1348.7 M1324.3,147.8 H1348.7" stroke="#000000" stroke-width="3.8" fill="none"/>
<path d="M1407.2,77.8 V158.5 M1395.0,77.8 H1419.4 M1395.0,158.5 H1419.4" stroke="#000000" stroke-width="3.8" fill="none"/>
<path d="M1477.9,99.4 V158.3 M1465.7,99.4 H1490.1 M1465.7,158.3 H1490.1" stroke="#000000" stroke-width="3.8" fill="none"/>
<path d="M1042.6,441.0 L1048.0,430.5 L1059.6,430.5 L1065.0,441.0 L1059.6,451.5 L1048.0,451.5 Z" fill="#00ff00" stroke="#000000" stroke-width="4.4" stroke-linejoin="miter"/>
<path d="M1077.9,411.1 L1083.3,400.6 L1094.9,400.6 L1100.3,411.1 L1094.9,421.6 L1083.3,421.6 Z" fill="#00ff00" stroke="#000000" stroke-width="4.4" stroke-linejoin="miter"/>
<path d="M1113.3,377.8 L1118.7,367.3 L1130.3,367.3 L1135.7,377.8 L1130.3,388.3 L1118.7,388.3 Z" fill="#00ff00" stroke="#000000" stroke-width="4.4" stroke-linejoin="miter"/>
<path d="M1148.6,296.9 L1154.0,286.4 L1165.6,286.4 L1171.0,296.9 L1165.6,307.4 L1154.0,307.4 Z" fill="#00ff00" stroke="#000000" stroke-width="4.4" stroke-linejoin="miter"/>
<path d="M1184.0,254.1 L1189.4,243.6 L1201.0,243.6 L1206.4,254.1 L1201.0,264.6 L1189.4,264.6 Z" fill="#00ff00" stroke="#000000" stroke-width="4.4" stroke-linejoin="miter"/>
<path d="M1219.3,190.2 L1224.7,179.7 L1236.3,179.7 L1241.7,190.2 L1236.3,200.7 L1224.7,200.7 Z" fill="#00ff00" stroke="#000000" stroke-width="4.4" stroke-linejoin="miter"/>
<path d="M1254.6,135.5 L1260.0,125.0 L1271.6,125.0 L1277.0,135.5 L1271.6,146.0 L1260.0,146.0 Z" fill="#00ff00" stroke="#000000" stroke-width="4.4" stroke-linejoin="miter"/>
<path d="M1325.3,123.8 L1330.7,113.3 L1342.3,113.3 L1347.7,123.8 L1342.3,134.3 L1330.7,134.3 Z" fill="#00ff00" stroke="#000000" stroke-width="4.4" stroke-linejoin="miter"/>
<path d="M1396.0,120.5 L1401.4,110.0 L1413.0,110.0 L1418.4,120.5 L1413.0,131.0 L1401.4,131.0 Z" fill="#00ff00" stroke="#000000" stroke-width="4.4" stroke-linejoin="miter"/>
<path d="M1466.7,126.0 L1472.1,115.5 L1483.7,115.5 L1489.1,126.0 L1483.7,136.5 L1472.1,136.5 Z" fill="#00ff00" stroke="#000000" stroke-width="4.4" stroke-linejoin="miter"/>
<path clip-path="url(#cb)" d="M1053.8,395.2 L1055.8,395.3 L1057.8,395.3 L1059.8,395.4 L1061.8,395.4 L1063.8,395.4 L1065.8,395.4 L1067.8,395.5 L1069.8,395.5 L1071.9,395.5 L1073.9,395.5 L1075.9,395.5 L1077.9,395.5 L1079.9,395.5 L1081.9,395.5 L1083.9,395.4 L1085.9,395.4 L1087.9,395.3 L1089.9,395.2 L1091.9,395.1 L1093.9,395.0 L1095.9,394.9 L1097.9,394.7 L1099.9,394.5 L1101.9,394.2 L1103.9,394.0 L1105.9,393.6 L1107.8,393.3 L1109.8,392.9 L1111.8,392.5 L1113.7,392.0 L1115.6,391.4 L1117.6,390.9 L1119.5,390.2 L1121.4,389.6 L1123.2,388.8 L1125.1,388.0 L1126.9,387.2 L1128.7,386.3 L1130.5,385.4 L1132.3,384.4 L1134.0,383.4 L1135.7,382.4 L1137.4,381.3 L1139.0,380.1 L1140.6,378.9 L1142.2,377.7 L1143.8,376.5 L1145.4,375.2 L1146.9,373.9 L1148.4,372.6 L1149.8,371.2 L1151.3,369.8 L1152.7,368.4 L1154.1,367.0 L1155.5,365.5 L1156.9,364.0 L1158.2,362.5 L1159.5,361.0 L1160.8,359.5 L1162.1,358.0 L1163.4,356.4 L1164.6,354.8 L1165.9,353.3 L1167.1,351.7 L1168.3,350.1 L1169.5,348.5 L1170.7,346.8 L1171.9,345.2 L1173.0,343.6 L1174.2,341.9 L1175.3,340.3 L1176.4,338.6 L1177.6,336.9 L1178.7,335.3 L1179.8,333.6 L1180.9,331.9 L1181.9,330.2 L1183.0,328.5 L1184.1,326.8 L1185.2,325.1 L1186.2,323.4 L1187.3,321.7 L1188.3,320.0 L1189.4,318.3 L1190.4,316.6 L1191.4,314.9 L1192.5,313.1 L1193.5,311.4 L1194.5,309.7 L1195.5,308.0 L1196.6,306.2 L1197.6,304.5 L1198.6,302.8 L1199.6,301.0 L1200.6,299.3 L1201.6,297.6 L1202.6,295.8 L1203.6,294.1 L1204.6,292.4 L1205.6,290.6 L1206.6,288.9 L1207.6,287.1 L1208.6,285.4 L1209.6,283.7 L1210.6,281.9 L1211.6,280.2 L1212.6,278.4 L1213.6,276.7 L1214.6,275.0 L1215.6,273.2 L1216.6,271.5 L1217.6,269.7 L1218.7,268.0 L1219.7,266.3 L1220.7,264.5 L1221.7,262.8 L1222.7,261.1 L1223.7,259.4 L1224.8,257.6 L1225.8,255.9 L1226.8,254.2 L1227.8,252.5 L1228.9,250.7 L1229.9,249.0 L1231.0,247.3 L1232.0,245.6 L1233.1,243.9 L1234.1,242.2 L1235.2,240.5 L1236.2,238.8 L1237.3,237.1 L1238.4,235.4 L1239.5,233.7 L1240.6,232.0 L1241.7,230.3 L1242.8,228.7 L1243.9,227.0 L1245.0,225.3 L1246.1,223.6 L1247.2,222.0 L1248.3,220.3 L1249.5,218.7 L1250.6,217.0 L1251.8,215.4 L1252.9,213.7 L1254.1,212.1 L1255.3,210.5 L1256.5,208.9 L1257.7,207.3 L1258.9,205.6 L1260.1,204.0 L1261.3,202.4 L1262.5,200.9 L1263.8,199.3 L1265.0,197.7 L1266.3,196.1 L1267.5,194.6 L1268.8,193.0 L1270.1,191.5 L1271.4,190.0 L1272.7,188.4 L1274.0,186.9 L1275.3,185.4 L1276.7,183.9 L1278.0,182.4 L1279.4,181.0 L1280.7,179.5 L1282.1,178.0 L1283.5,176.6 L1284.9,175.2 L1286.3,173.7 L1287.8,172.3 L1289.2,170.9 L1290.7,169.6 L1292.1,168.2 L1293.6,166.8 L1295.1,165.5 L1296.6,164.2 L1298.1,162.9 L1299.7,161.6 L1301.2,160.3 L1302.8,159.0 L1304.3,157.7 L1305.9,156.5 L1307.5,155.3 L1309.1,154.1 L1310.7,152.9 L1312.3,151.7 L1314.0,150.6 L1315.6,149.4 L1317.3,148.3 L1319.0,147.2 L1320.7,146.1 L1322.4,145.0 L1324.1,144.0 L1325.8,142.9 L1327.5,141.9 L1329.2,140.9 L1331.0,139.9 L1332.7,138.9 L1334.5,138.0 L1336.3,137.1 L1338.1,136.1 L1339.9,135.2 L1341.7,134.4 L1343.5,133.5 L1345.3,132.6 L1347.1,131.8 L1349.0,131.0 L1350.8,130.2 L1352.6,129.4 L1354.5,128.6 L1356.4,127.9 L1358.2,127.2 L1360.1,126.4 L1362.0,125.7 L1363.9,125.0 L1365.7,124.4 L1367.6,123.7 L1369.5,123.0 L1371.4,122.4 L1373.3,121.8 L1375.3,121.2 L1377.2,120.6 L1379.1,120.0 L1381.0,119.4 L1382.9,118.8 L1384.9,118.3 L1386.8,117.7 L1388.7,117.2 L1390.7,116.7 L1392.6,116.2 L1394.6,115.7 L1396.5,115.2 L1398.4,114.7 L1400.4,114.2 L1402.3,113.7 L1404.3,113.3 L1406.3,112.8 L1408.2,112.4 L1410.2,111.9 L1412.1,111.5 L1414.1,111.1 L1416.0,110.6 L1418.0,110.2 L1420.0,109.8 L1421.9,109.4 L1423.9,109.0 L1425.9,108.6 L1427.8,108.2 L1429.8,107.8 L1431.8,107.4 L1433.7,107.0 L1435.7,106.6 L1437.7,106.3 L1439.7,105.9 L1441.6,105.5 L1443.6,105.1 L1445.6,104.8 L1447.5,104.4 L1449.5,104.0 L1451.5,103.7 L1453.5,103.3 L1455.4,102.9 L1457.4,102.6 L1459.4,102.2 L1461.4,101.9 L1463.3,101.5 L1465.3,101.1 L1467.3,100.8 L1469.3,100.5 L1471.2,100.1 L1473.2,99.8 L1475.2,99.4 L1477.2,99.1 L1479.1,98.7 L1481.1,98.4 L1483.1,98.1 L1485.1,97.7 L1487.1,97.4 L1489.0,97.1 L1491.0,96.7 L1493.0,96.4 L1495.0,96.1 L1497.0,95.7 L1498.9,95.4 L1500.9,95.1 L1502.9,94.8 L1504.9,94.4 L1506.9,94.1 L1508.8,93.8 L1510.8,93.5 L1512.8,93.2 L1514.8,92.9 L1516.8,92.5 L1518.7,92.2 L1520.7,91.9 L1522.7,91.6 L1524.7,91.3 L1526.7,91.0 L1528.7,90.7 L1530.6,90.4 L1532.6,90.1 L1534.6,89.8 L1536.6,89.5 L1538.6,89.2 L1540.6,88.9 L1542.6,88.6 L1544.6,88.4 L1546.6,88.3 L1548.6,88.2" fill="none" stroke="#ff0000" stroke-width="4.3" stroke-dasharray="0 11.2" stroke-linecap="round"/>
<path clip-path="url(#cb)" d="M1053.8,442.2 L1055.8,442.2 L1057.8,442.2 L1059.8,442.2 L1061.8,442.2 L1063.8,442.2 L1065.9,442.2 L1067.9,442.2 L1069.9,442.2 L1071.9,442.2 L1073.9,442.2 L1075.9,442.2 L1077.9,442.2 L1079.9,442.2 L1081.9,442.2 L1083.9,442.2 L1086.0,442.2 L1088.0,442.1 L1090.0,442.1 L1092.0,442.1 L1094.0,442.0 L1096.0,442.0 L1098.0,441.9 L1100.0,441.9 L1102.0,441.8 L1104.0,441.7 L1106.0,441.5 L1108.0,441.4 L1110.0,441.3 L1112.0,441.1 L1114.0,440.9 L1116.0,440.6 L1118.0,440.4 L1120.0,440.1 L1122.0,439.8 L1124.0,439.4 L1126.0,439.0 L1127.9,438.6 L1129.9,438.1 L1131.8,437.6 L1133.8,437.0 L1135.7,436.5 L1137.6,435.8 L1139.5,435.1 L1141.3,434.4 L1143.2,433.6 L1145.0,432.8 L1146.8,431.9 L1148.6,431.0 L1150.4,430.1 L1152.1,429.1 L1153.9,428.0 L1155.6,426.9 L1157.2,425.8 L1158.9,424.6 L1160.5,423.4 L1162.1,422.2 L1163.6,420.9 L1165.2,419.7 L1166.7,418.3 L1168.2,417.0 L1169.6,415.6 L1171.0,414.2 L1172.5,412.8 L1173.9,411.3 L1175.2,409.8 L1176.6,408.4 L1177.9,406.8 L1179.2,405.3 L1180.5,403.8 L1181.8,402.2 L1183.0,400.7 L1184.3,399.1 L1185.5,397.5 L1186.7,395.9 L1187.9,394.3 L1189.1,392.6 L1190.3,391.0 L1191.4,389.4 L1192.6,387.7 L1193.7,386.1 L1194.8,384.4 L1195.9,382.7 L1197.0,381.0 L1198.1,379.3 L1199.2,377.6 L1200.3,376.0 L1201.4,374.2 L1202.4,372.5 L1203.5,370.8 L1204.5,369.1 L1205.6,367.4 L1206.6,365.7 L1207.6,363.9 L1208.6,362.2 L1209.7,360.5 L1210.7,358.7 L1211.7,357.0 L1212.7,355.3 L1213.7,353.5 L1214.7,351.8 L1215.7,350.0 L1216.7,348.3 L1217.7,346.5 L1218.6,344.8 L1219.6,343.0 L1220.6,341.3 L1221.6,339.5 L1222.6,337.8 L1223.5,336.0 L1224.5,334.2 L1225.5,332.5 L1226.5,330.7 L1227.4,329.0 L1228.4,327.2 L1229.4,325.5 L1230.4,323.7 L1231.4,321.9 L1232.3,320.2 L1233.3,318.4 L1234.3,316.7 L1235.3,314.9 L1236.3,313.2 L1237.2,311.4 L1238.2,309.7 L1239.2,307.9 L1240.2,306.2 L1241.2,304.4 L1242.2,302.7 L1243.2,300.9 L1244.2,299.2 L1245.2,297.5 L1246.2,295.7 L1247.2,294.0 L1248.3,292.3 L1249.3,290.5 L1250.3,288.8 L1251.3,287.1 L1252.4,285.4 L1253.4,283.6 L1254.5,281.9 L1255.5,280.2 L1256.6,278.5 L1257.7,276.8 L1258.7,275.1 L1259.8,273.4 L1260.9,271.7 L1262.0,270.0 L1263.1,268.3 L1264.2,266.6 L1265.3,265.0 L1266.4,263.3 L1267.5,261.6 L1268.7,260.0 L1269.8,258.3 L1270.9,256.7 L1272.1,255.0 L1273.3,253.4 L1274.4,251.8 L1275.6,250.1 L1276.8,248.5 L1278.0,246.9 L1279.2,245.3 L1280.4,243.7 L1281.7,242.1 L1282.9,240.5 L1284.2,239.0 L1285.4,237.4 L1286.7,235.8 L1288.0,234.3 L1289.3,232.7 L1290.6,231.2 L1291.9,229.7 L1293.2,228.2 L1294.5,226.7 L1295.9,225.2 L1297.2,223.7 L1298.6,222.2 L1300.0,220.8 L1301.4,219.3 L1302.8,217.9 L1304.2,216.4 L1305.6,215.0 L1307.0,213.6 L1308.5,212.2 L1310.0,210.8 L1311.4,209.5 L1312.9,208.1 L1314.4,206.8 L1315.9,205.5 L1317.5,204.2 L1319.0,202.9 L1320.5,201.6 L1322.1,200.3 L1323.7,199.1 L1325.3,197.8 L1326.8,196.6 L1328.5,195.4 L1330.1,194.2 L1331.7,193.0 L1333.4,191.9 L1335.0,190.7 L1336.7,189.6 L1338.4,188.5 L1340.0,187.4 L1341.7,186.3 L1343.4,185.3 L1345.2,184.2 L1346.9,183.2 L1348.6,182.2 L1350.4,181.2 L1352.1,180.2 L1353.9,179.3 L1355.7,178.4 L1357.5,177.4 L1359.3,176.5 L1361.1,175.7 L1362.9,174.8 L1364.7,173.9 L1366.6,173.1 L1368.4,172.3 L1370.2,171.5 L1372.1,170.7 L1374.0,170.0 L1375.8,169.2 L1377.7,168.5 L1379.6,167.8 L1381.5,167.1 L1383.4,166.4 L1385.3,165.8 L1387.2,165.1 L1389.1,164.5 L1391.0,163.9 L1392.9,163.3 L1394.8,162.7 L1396.8,162.2 L1398.7,161.7 L1400.6,161.1 L1402.6,160.6 L1404.5,160.1 L1406.5,159.7 L1408.4,159.2 L1410.4,158.8 L1412.4,158.3 L1414.3,157.9 L1416.3,157.5 L1418.3,157.1 L1420.3,156.8 L1422.2,156.4 L1424.2,156.1 L1426.2,155.8 L1428.2,155.4 L1430.2,155.1 L1432.2,154.9 L1434.2,154.6 L1436.2,154.3 L1438.1,154.1 L1440.1,153.9 L1442.1,153.6 L1444.1,153.4 L1446.1,153.2 L1448.1,153.0 L1450.1,152.8 L1452.1,152.7 L1454.1,152.5 L1456.2,152.3 L1458.2,152.2 L1460.2,152.1 L1462.2,151.9 L1464.2,151.8 L1466.2,151.7 L1468.2,151.6 L1470.2,151.5 L1472.2,151.4 L1474.2,151.4 L1476.2,151.3 L1478.2,151.2 L1480.2,151.2 L1482.2,151.1 L1484.3,151.1 L1486.3,151.0 L1488.3,151.0 L1490.3,151.0 L1492.3,150.9 L1494.3,150.9 L1496.3,150.9 L1498.3,150.9 L1500.3,150.9 L1502.3,150.9 L1504.4,150.9 L1506.4,150.9 L1508.4,150.9 L1510.4,150.9 L1512.4,150.9 L1514.4,151.0 L1516.4,151.0 L1518.4,151.0 L1520.4,151.0 L1522.4,151.1 L1524.5,151.1 L1526.5,151.1 L1528.5,151.2 L1530.5,151.2 L1532.5,151.2 L1534.5,151.3 L1536.5,151.3 L1538.5,151.4 L1540.5,151.4 L1542.5,151.3 L1544.5,151.2 L1546.6,151.1 L1548.6,151.0" fill="none" stroke="#ff0000" stroke-width="4.3" stroke-dasharray="0 11.2" stroke-linecap="round"/>
<path clip-path="url(#cb)" d="M1053.8,422.4 L1055.8,422.4 L1057.8,422.4 L1059.8,422.4 L1061.8,422.5 L1063.9,422.5 L1065.9,422.5 L1067.9,422.5 L1069.9,422.5 L1071.9,422.5 L1073.9,422.5 L1075.9,422.5 L1077.9,422.4 L1079.9,422.4 L1082.0,422.4 L1084.0,422.3 L1086.0,422.2 L1088.0,422.2 L1090.0,422.1 L1092.0,421.9 L1094.0,421.8 L1096.0,421.6 L1098.0,421.5 L1100.0,421.2 L1102.0,421.0 L1104.0,420.7 L1106.0,420.4 L1108.0,420.1 L1109.9,419.7 L1111.9,419.3 L1113.9,418.9 L1115.8,418.4 L1117.8,417.9 L1119.7,417.3 L1121.6,416.7 L1123.5,416.1 L1125.4,415.4 L1127.3,414.7 L1129.1,413.9 L1131.0,413.0 L1132.8,412.2 L1134.6,411.3 L1136.3,410.3 L1138.1,409.3 L1139.8,408.3 L1141.5,407.2 L1143.2,406.1 L1144.9,405.0 L1146.5,403.8 L1148.1,402.6 L1149.7,401.4 L1151.2,400.1 L1152.8,398.8 L1154.3,397.5 L1155.8,396.1 L1157.3,394.7 L1158.7,393.3 L1160.1,391.9 L1161.5,390.5 L1162.9,389.0 L1164.3,387.6 L1165.6,386.1 L1167.0,384.6 L1168.3,383.0 L1169.6,381.5 L1170.9,380.0 L1172.1,378.4 L1173.4,376.8 L1174.6,375.2 L1175.9,373.6 L1177.1,372.0 L1178.3,370.4 L1179.5,368.8 L1180.6,367.2 L1181.8,365.5 L1182.9,363.9 L1184.1,362.2 L1185.2,360.6 L1186.3,358.9 L1187.5,357.2 L1188.6,355.5 L1189.7,353.9 L1190.8,352.2 L1191.8,350.5 L1192.9,348.8 L1194.0,347.1 L1195.1,345.4 L1196.1,343.7 L1197.2,342.0 L1198.2,340.2 L1199.3,338.5 L1200.3,336.8 L1201.3,335.1 L1202.4,333.3 L1203.4,331.6 L1204.4,329.9 L1205.4,328.2 L1206.5,326.4 L1207.5,324.7 L1208.5,322.9 L1209.5,321.2 L1210.5,319.5 L1211.5,317.7 L1212.5,316.0 L1213.5,314.2 L1214.5,312.5 L1215.5,310.8 L1216.5,309.0 L1217.5,307.3 L1218.5,305.5 L1219.5,303.8 L1220.5,302.0 L1221.5,300.3 L1222.5,298.5 L1223.5,296.8 L1224.5,295.1 L1225.5,293.3 L1226.5,291.6 L1227.6,289.8 L1228.6,288.1 L1229.6,286.3 L1230.6,284.6 L1231.6,282.9 L1232.6,281.1 L1233.6,279.4 L1234.7,277.7 L1235.7,275.9 L1236.7,274.2 L1237.7,272.5 L1238.8,270.8 L1239.8,269.0 L1240.9,267.3 L1241.9,265.6 L1243.0,263.9 L1244.0,262.2 L1245.1,260.5 L1246.1,258.8 L1247.2,257.1 L1248.3,255.4 L1249.4,253.7 L1250.5,252.0 L1251.5,250.3 L1252.6,248.6 L1253.7,246.9 L1254.9,245.2 L1256.0,243.6 L1257.1,241.9 L1258.2,240.2 L1259.4,238.6 L1260.5,236.9 L1261.7,235.3 L1262.8,233.6 L1264.0,232.0 L1265.2,230.4 L1266.4,228.7 L1267.6,227.1 L1268.8,225.5 L1270.0,223.9 L1271.2,222.3 L1272.4,220.7 L1273.7,219.1 L1274.9,217.6 L1276.2,216.0 L1277.4,214.4 L1278.7,212.9 L1280.0,211.3 L1281.3,209.8 L1282.6,208.3 L1283.9,206.8 L1285.3,205.2 L1286.6,203.7 L1288.0,202.3 L1289.3,200.8 L1290.7,199.3 L1292.1,197.9 L1293.5,196.4 L1294.9,195.0 L1296.3,193.6 L1297.8,192.2 L1299.2,190.8 L1300.7,189.4 L1302.1,188.0 L1303.6,186.7 L1305.1,185.3 L1306.6,184.0 L1308.2,182.7 L1309.7,181.4 L1311.2,180.1 L1312.8,178.8 L1314.4,177.6 L1316.0,176.3 L1317.5,175.1 L1319.2,173.9 L1320.8,172.7 L1322.4,171.5 L1324.0,170.4 L1325.7,169.2 L1327.4,168.1 L1329.0,167.0 L1330.7,165.9 L1332.4,164.8 L1334.1,163.8 L1335.9,162.7 L1337.6,161.7 L1339.3,160.7 L1341.1,159.7 L1342.9,158.7 L1344.6,157.8 L1346.4,156.8 L1348.2,155.9 L1350.0,155.0 L1351.8,154.1 L1353.6,153.3 L1355.4,152.4 L1357.3,151.6 L1359.1,150.8 L1360.9,150.0 L1362.8,149.2 L1364.6,148.4 L1366.5,147.7 L1368.4,146.9 L1370.3,146.2 L1372.1,145.5 L1374.0,144.8 L1375.9,144.1 L1377.8,143.5 L1379.7,142.8 L1381.6,142.2 L1383.6,141.6 L1385.5,141.0 L1387.4,140.4 L1389.3,139.8 L1391.3,139.2 L1393.2,138.7 L1395.1,138.1 L1397.1,137.6 L1399.0,137.1 L1401.0,136.6 L1402.9,136.1 L1404.9,135.6 L1406.8,135.2 L1408.8,134.7 L1410.7,134.3 L1412.7,133.8 L1414.7,133.4 L1416.6,133.0 L1418.6,132.6 L1420.6,132.2 L1422.6,131.8 L1424.5,131.4 L1426.5,131.1 L1428.5,130.7 L1430.5,130.4 L1432.5,130.0 L1434.4,129.7 L1436.4,129.4 L1438.4,129.1 L1440.4,128.8 L1442.4,128.4 L1444.4,128.2 L1446.4,127.9 L1448.4,127.6 L1450.3,127.3 L1452.3,127.1 L1454.3,126.8 L1456.3,126.5 L1458.3,126.3 L1460.3,126.0 L1462.3,125.8 L1464.3,125.6 L1466.3,125.4 L1468.3,125.1 L1470.3,124.9 L1472.3,124.7 L1474.3,124.5 L1476.3,124.3 L1478.3,124.1 L1480.3,123.9 L1482.3,123.7 L1484.3,123.6 L1486.3,123.4 L1488.3,123.2 L1490.3,123.1 L1492.3,122.9 L1494.3,122.7 L1496.4,122.6 L1498.4,122.4 L1500.4,122.3 L1502.4,122.1 L1504.4,122.0 L1506.4,121.9 L1508.4,121.7 L1510.4,121.6 L1512.4,121.5 L1514.4,121.4 L1516.4,121.3 L1518.4,121.1 L1520.4,121.0 L1522.4,120.9 L1524.5,120.8 L1526.5,120.7 L1528.5,120.6 L1530.5,120.5 L1532.5,120.4 L1534.5,120.3 L1536.5,120.2 L1538.5,120.2 L1540.5,120.1 L1542.5,120.0 L1544.5,119.9 L1546.6,119.8 L1548.6,119.8" fill="none" stroke="#ff0000" stroke-width="4.2" stroke-linejoin="round" stroke-linecap="round"/>
<path d="M1089.1,373.4 V438.0 M1076.9,373.4 H1101.3 M1076.9,438.0 H1101.3" stroke="#ff0000" stroke-width="3.8" fill="none"/>
<path d="M1124.5,382.5 V434.7 M1112.3,382.5 H1136.7 M1112.3,434.7 H1136.7" stroke="#ff0000" stroke-width="3.8" fill="none"/>
<path d="M1265.8,185.7 V268.9 M1253.6,185.7 H1278.0 M1253.6,268.9 H1278.0" stroke="#ff0000" stroke-width="3.8" fill="none"/>
<path d="M1336.5,147.8 V192.6 M1324.3,147.8 H1348.7 M1324.3,192.6 H1348.7" stroke="#ff0000" stroke-width="3.8" fill="none"/>
<path d="M1053.8,452.4 L1065.7,429.6 L1041.9,429.6 Z" fill="#00ff00" stroke="#ff0000" stroke-width="4.4" stroke-linejoin="round"/>
<path d="M1089.1,417.1 L1101.0,394.3 L1077.2,394.3 Z" fill="#00ff00" stroke="#ff0000" stroke-width="4.4" stroke-linejoin="round"/>
<path d="M1124.5,417.1 L1136.4,394.3 L1112.6,394.3 Z" fill="#00ff00" stroke="#ff0000" stroke-width="4.4" stroke-linejoin="round"/>
<path d="M1195.2,361.0 L1207.1,338.2 L1183.3,338.2 Z" fill="#00ff00" stroke="#ff0000" stroke-width="4.4" stroke-linejoin="round"/>
<path d="M1265.8,235.7 L1277.7,212.9 L1253.9,212.9 Z" fill="#00ff00" stroke="#ff0000" stroke-width="4.4" stroke-linejoin="round"/>
<path d="M1336.5,180.4 L1348.4,157.6 L1324.6,157.6 Z" fill="#00ff00" stroke="#ff0000" stroke-width="4.4" stroke-linejoin="round"/>
<path d="M1407.2,141.8 L1419.1,119.0 L1395.3,119.0 Z" fill="#00ff00" stroke="#ff0000" stroke-width="4.4" stroke-linejoin="round"/>
<path d="M1477.9,133.8 L1489.8,111.0 L1466.0,111.0 Z" fill="#00ff00" stroke="#ff0000" stroke-width="4.4" stroke-linejoin="round"/>
<path d="M1548.6,138.8 L1560.5,116.0 L1536.7,116.0 Z" fill="#00ff00" stroke="#ff0000" stroke-width="4.4" stroke-linejoin="round"/>
</svg>
</body></html>
